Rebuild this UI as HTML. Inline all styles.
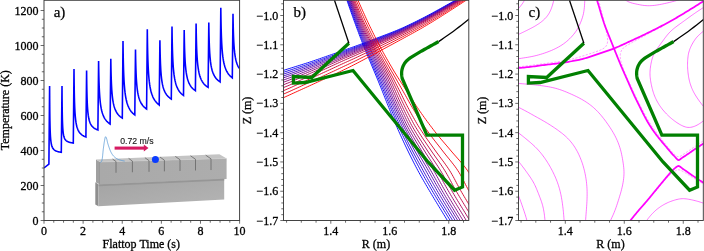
<!DOCTYPE html>
<html><head><meta charset="utf-8"><title>figure</title>
<style>html,body{margin:0;padding:0;background:#fff;overflow:hidden}svg{display:block;filter:blur(0.35px)}.tl{font-family:"Liberation Serif", serif;font-size:12px;fill:#000;stroke:#000;stroke-width:0.3px}.al{font-family:"Liberation Serif", serif;font-size:12px;fill:#000;stroke:#000;stroke-width:0.3px}.pl{font-family:"Liberation Serif", serif;font-size:15px;fill:#000;stroke:#000;stroke-width:0.25px}</style></head><body>
<svg width="704" height="251" viewBox="0 0 704 251">
<rect width="704" height="251" fill="#fff"/>
<g opacity="0.999">
<defs><linearGradient id="gu" x1="0" y1="0" x2="1" y2="0"><stop offset="0" stop-color="#a9a9a9"/><stop offset="1" stop-color="#adadad"/></linearGradient><linearGradient id="gl" x1="0" y1="0" x2="1" y2="1"><stop offset="0" stop-color="#a3a3a3"/><stop offset="1" stop-color="#b4b4b4"/></linearGradient></defs>
<clipPath id="ca"><rect x="44" y="0.3" width="195.6" height="220.2"/></clipPath>
<path d="M44 168 L48.9 164 L49.6 86 L49.68 100.32 L49.76 109.65 L49.84 116.22 L49.92 121.1 L50 124.86 L50.08 127.85 L50.16 130.28 L50.24 132.3 L50.32 134 L50.4 135.45 L50.48 136.71 L50.56 137.81 L50.64 138.78 L50.72 139.63 L50.8 140.4 L50.9 141.25 L51.26 143.58 L51.62 145.2 L51.98 146.38 L52.33 147.28 L52.69 147.99 L53.05 148.56 L53.41 149.04 L53.77 149.44 L54.13 149.77 L54.49 150.07 L54.84 150.32 L55.2 150.54 L55.56 150.74 L55.92 150.92 L56.28 151.08 L56.64 151.22 L57 151.35 L57.36 151.47 L57.71 151.58 L58.07 151.67 L58.43 151.77 L58.79 151.85 L59.15 151.93 L59.51 152 L59.87 152.07 L60.22 152.13 L60.58 152.19 L60.94 152.25 L61.3 152.3 L62 86 L62.08 98.32 L62.16 106.35 L62.24 112.01 L62.32 116.2 L62.4 119.44 L62.48 122.01 L62.56 124.1 L62.64 125.84 L62.72 127.3 L62.8 128.56 L62.88 129.64 L62.96 130.58 L63.04 131.41 L63.12 132.15 L63.2 132.81 L63.3 133.54 L63.64 135.49 L63.99 136.85 L64.33 137.85 L64.68 138.62 L65.02 139.23 L65.37 139.73 L65.71 140.14 L66.06 140.49 L66.4 140.78 L66.75 141.04 L67.09 141.26 L67.44 141.45 L67.78 141.63 L68.13 141.78 L68.47 141.92 L68.82 142.05 L69.16 142.16 L69.51 142.26 L69.85 142.36 L70.2 142.45 L70.54 142.53 L70.89 142.6 L71.23 142.67 L71.58 142.74 L71.92 142.8 L72.27 142.85 L72.61 142.9 L72.96 142.95 L73.3 143 L74 69 L74.08 77.96 L74.16 84.7 L74.24 89.97 L74.32 94.23 L74.4 97.75 L74.48 100.73 L74.56 103.27 L74.64 105.48 L74.72 107.42 L74.8 109.13 L74.88 110.66 L74.96 112.04 L75.04 113.29 L75.12 114.42 L75.2 115.46 L75.3 116.63 L75.67 120.09 L76.03 122.65 L76.4 124.62 L76.76 126.2 L77.13 127.5 L77.49 128.59 L77.86 129.51 L78.22 130.31 L78.59 131.01 L78.96 131.63 L79.32 132.18 L79.69 132.67 L80.05 133.12 L80.42 133.52 L80.78 133.89 L81.15 134.23 L81.51 134.54 L81.88 134.83 L82.24 135.1 L82.61 135.35 L82.98 135.58 L83.34 135.79 L83.71 136 L84.07 136.19 L84.44 136.37 L84.8 136.54 L85.17 136.7 L85.53 136.85 L85.9 137 L86.6 70.4 L86.68 78.28 L86.76 84.21 L86.84 88.85 L86.92 92.59 L87 95.69 L87.08 98.31 L87.16 100.55 L87.24 102.49 L87.32 104.19 L87.4 105.7 L87.48 107.05 L87.56 108.26 L87.64 109.35 L87.72 110.35 L87.8 111.26 L87.9 112.3 L88.24 115.2 L88.59 117.37 L88.93 119.06 L89.28 120.43 L89.62 121.56 L89.97 122.51 L90.31 123.32 L90.66 124.03 L91 124.64 L91.35 125.19 L91.69 125.68 L92.04 126.12 L92.38 126.51 L92.73 126.88 L93.07 127.21 L93.42 127.51 L93.76 127.79 L94.11 128.05 L94.45 128.29 L94.8 128.51 L95.14 128.72 L95.49 128.91 L95.83 129.1 L96.18 129.27 L96.52 129.43 L96.87 129.59 L97.21 129.73 L97.56 129.87 L97.9 130 L98.6 61 L98.68 66.66 L98.76 71.26 L98.84 75.09 L98.92 78.35 L99 81.16 L99.08 83.62 L99.16 85.79 L99.24 87.73 L99.32 89.48 L99.4 91.07 L99.48 92.51 L99.56 93.83 L99.64 95.05 L99.72 96.18 L99.8 97.23 L99.9 98.44 L100.25 102 L100.6 104.78 L100.96 107.03 L101.31 108.9 L101.66 110.49 L102.01 111.85 L102.36 113.05 L102.71 114.1 L103.07 115.04 L103.42 115.88 L103.77 116.65 L104.12 117.35 L104.47 117.98 L104.82 118.57 L105.18 119.12 L105.53 119.62 L105.88 120.09 L106.23 120.53 L106.58 120.94 L106.93 121.33 L107.29 121.69 L107.64 122.03 L107.99 122.36 L108.34 122.67 L108.69 122.96 L109.04 123.24 L109.4 123.5 L109.75 123.76 L110.1 124 L110.8 58.8 L110.88 64.13 L110.96 68.46 L111.04 72.06 L111.12 75.13 L111.2 77.77 L111.28 80.09 L111.36 82.14 L111.44 83.96 L111.52 85.61 L111.6 87.1 L111.68 88.46 L111.76 89.71 L111.84 90.85 L111.92 91.92 L112 92.9 L112.1 94.04 L112.45 97.39 L112.8 100.01 L113.16 102.13 L113.51 103.89 L113.86 105.38 L114.21 106.67 L114.56 107.79 L114.91 108.78 L115.27 109.67 L115.62 110.46 L115.97 111.18 L116.32 111.84 L116.67 112.44 L117.02 112.99 L117.38 113.5 L117.73 113.98 L118.08 114.42 L118.43 114.83 L118.78 115.22 L119.13 115.58 L119.49 115.93 L119.84 116.25 L120.19 116.56 L120.54 116.85 L120.89 117.12 L121.24 117.38 L121.6 117.63 L121.95 117.87 L122.3 118.1 L123 41 L123.08 47.63 L123.16 53.01 L123.24 57.5 L123.32 61.31 L123.4 64.6 L123.48 67.48 L123.56 70.03 L123.64 72.3 L123.72 74.35 L123.8 76.21 L123.88 77.9 L123.96 79.45 L124.04 80.87 L124.12 82.19 L124.2 83.42 L124.3 84.84 L124.66 89.11 L125.02 92.44 L125.39 95.11 L125.75 97.32 L126.11 99.19 L126.47 100.8 L126.83 102.21 L127.2 103.45 L127.56 104.55 L127.92 105.54 L128.28 106.43 L128.64 107.25 L129.01 107.99 L129.37 108.68 L129.73 109.31 L130.09 109.9 L130.46 110.45 L130.82 110.96 L131.18 111.44 L131.54 111.89 L131.9 112.31 L132.27 112.71 L132.63 113.09 L132.99 113.45 L133.35 113.79 L133.71 114.12 L134.08 114.42 L134.44 114.72 L134.8 115 L135.5 49.4 L135.58 54.78 L135.66 59.15 L135.74 62.79 L135.82 65.88 L135.9 68.55 L135.98 70.89 L136.06 72.96 L136.14 74.8 L136.22 76.46 L136.3 77.97 L136.38 79.34 L136.46 80.6 L136.54 81.76 L136.62 82.83 L136.7 83.82 L136.8 84.97 L137.14 88.24 L137.48 90.81 L137.81 92.91 L138.15 94.66 L138.49 96.14 L138.83 97.43 L139.17 98.56 L139.5 99.55 L139.84 100.44 L140.18 101.25 L140.52 101.97 L140.86 102.64 L141.19 103.24 L141.53 103.8 L141.87 104.32 L142.21 104.8 L142.54 105.25 L142.88 105.67 L143.22 106.07 L143.56 106.44 L143.9 106.78 L144.23 107.11 L144.57 107.43 L144.91 107.72 L145.25 108 L145.59 108.27 L145.92 108.52 L146.26 108.77 L146.6 109 L147.3 29.3 L147.38 36.07 L147.46 41.58 L147.54 46.16 L147.62 50.06 L147.7 53.42 L147.78 56.36 L147.86 58.97 L147.94 61.29 L148.02 63.38 L148.1 65.28 L148.18 67.01 L148.26 68.59 L148.34 70.05 L148.42 71.4 L148.5 72.65 L148.6 74.1 L148.97 78.51 L149.33 81.92 L149.7 84.67 L150.06 86.94 L150.43 88.85 L150.79 90.5 L151.16 91.94 L151.52 93.2 L151.89 94.33 L152.26 95.34 L152.62 96.26 L152.99 97.09 L153.35 97.85 L153.72 98.55 L154.08 99.2 L154.45 99.8 L154.81 100.36 L155.18 100.88 L155.54 101.37 L155.91 101.83 L156.28 102.26 L156.64 102.67 L157.01 103.06 L157.37 103.42 L157.74 103.77 L158.1 104.1 L158.47 104.41 L158.83 104.71 L159.2 105 L159.9 40.3 L159.98 45.58 L160.06 49.87 L160.14 53.44 L160.22 56.48 L160.3 59.1 L160.38 61.4 L160.46 63.42 L160.54 65.24 L160.62 66.87 L160.7 68.34 L160.78 69.69 L160.86 70.93 L160.94 72.06 L161.02 73.12 L161.1 74.09 L161.2 75.22 L161.55 78.51 L161.9 81.09 L162.24 83.18 L162.59 84.92 L162.94 86.39 L163.29 87.66 L163.64 88.77 L163.99 89.76 L164.33 90.63 L164.68 91.42 L165.03 92.13 L165.38 92.78 L165.73 93.38 L166.08 93.93 L166.42 94.44 L166.77 94.91 L167.12 95.35 L167.47 95.76 L167.82 96.14 L168.17 96.5 L168.51 96.84 L168.86 97.16 L169.21 97.47 L169.56 97.75 L169.91 98.03 L170.26 98.29 L170.6 98.54 L170.95 98.77 L171.3 99 L172 26.4 L172.08 32.61 L172.16 37.65 L172.24 41.85 L172.32 45.43 L172.4 48.51 L172.48 51.21 L172.56 53.59 L172.64 55.72 L172.72 57.64 L172.8 59.38 L172.88 60.96 L172.96 62.41 L173.04 63.75 L173.12 64.99 L173.2 66.14 L173.3 67.46 L173.65 71.37 L174 74.42 L174.36 76.89 L174.71 78.94 L175.06 80.68 L175.41 82.18 L175.76 83.48 L176.11 84.64 L176.47 85.67 L176.82 86.6 L177.17 87.44 L177.52 88.2 L177.87 88.9 L178.22 89.55 L178.58 90.14 L178.93 90.7 L179.28 91.21 L179.63 91.69 L179.98 92.14 L180.33 92.57 L180.69 92.97 L181.04 93.34 L181.39 93.7 L181.74 94.04 L182.09 94.36 L182.44 94.67 L182.8 94.96 L183.15 95.23 L183.5 95.5 L184.2 29.9 L184.28 35.38 L184.36 39.83 L184.44 43.54 L184.52 46.7 L184.6 49.42 L184.68 51.8 L184.76 53.9 L184.84 55.79 L184.92 57.48 L185 59.01 L185.08 60.41 L185.16 61.69 L185.24 62.87 L185.32 63.96 L185.4 64.98 L185.5 66.15 L185.84 69.51 L186.18 72.15 L186.52 74.29 L186.87 76.08 L187.21 77.6 L187.55 78.92 L187.89 80.07 L188.23 81.08 L188.57 81.99 L188.91 82.81 L189.26 83.55 L189.6 84.23 L189.94 84.85 L190.28 85.42 L190.62 85.94 L190.96 86.43 L191.3 86.89 L191.64 87.32 L191.99 87.72 L192.33 88.09 L192.67 88.45 L193.01 88.78 L193.35 89.1 L193.69 89.4 L194.03 89.69 L194.38 89.96 L194.72 90.22 L195.06 90.46 L195.4 90.7 L196.1 23.4 L196.18 29.12 L196.26 33.77 L196.34 37.64 L196.42 40.93 L196.5 43.77 L196.58 46.26 L196.66 48.46 L196.74 50.42 L196.82 52.19 L196.9 53.79 L196.98 55.25 L197.06 56.58 L197.14 57.82 L197.22 58.96 L197.3 60.01 L197.4 61.24 L197.77 64.99 L198.14 67.89 L198.51 70.22 L198.88 72.15 L199.24 73.77 L199.61 75.16 L199.98 76.38 L200.35 77.45 L200.72 78.4 L201.09 79.26 L201.46 80.03 L201.83 80.73 L202.2 81.37 L202.57 81.97 L202.93 82.51 L203.3 83.02 L203.67 83.49 L204.04 83.93 L204.41 84.34 L204.78 84.73 L205.15 85.09 L205.52 85.44 L205.89 85.76 L206.26 86.07 L206.62 86.36 L206.99 86.64 L207.36 86.91 L207.73 87.16 L208.1 87.4 L208.8 22.5 L208.88 27.85 L208.96 32.19 L209.04 35.81 L209.12 38.89 L209.2 41.55 L209.28 43.87 L209.36 45.93 L209.44 47.76 L209.52 49.41 L209.6 50.91 L209.68 52.27 L209.76 53.53 L209.84 54.68 L209.92 55.74 L210 56.73 L210.1 57.88 L210.44 61.18 L210.79 63.78 L211.13 65.88 L211.48 67.63 L211.82 69.12 L212.17 70.41 L212.51 71.53 L212.86 72.53 L213.2 73.41 L213.55 74.21 L213.89 74.93 L214.24 75.59 L214.58 76.2 L214.93 76.75 L215.27 77.27 L215.62 77.74 L215.96 78.19 L216.31 78.61 L216.65 79 L217 79.36 L217.34 79.71 L217.69 80.03 L218.03 80.34 L218.38 80.63 L218.72 80.91 L219.07 81.18 L219.41 81.43 L219.76 81.67 L220.1 81.9 L220.8 7.7 L220.88 14 L220.96 19.12 L221.04 23.38 L221.12 27 L221.2 30.13 L221.28 32.87 L221.36 35.29 L221.44 37.45 L221.52 39.39 L221.6 41.15 L221.68 42.76 L221.76 44.23 L221.84 45.59 L221.92 46.85 L222 48.01 L222.1 49.36 L222.45 53.32 L222.8 56.42 L223.16 58.92 L223.51 61 L223.86 62.76 L224.21 64.28 L224.56 65.61 L224.91 66.78 L225.27 67.83 L225.62 68.77 L225.97 69.62 L226.32 70.4 L226.67 71.11 L227.02 71.76 L227.38 72.37 L227.73 72.93 L228.08 73.45 L228.43 73.94 L228.78 74.4 L229.13 74.83 L229.49 75.23 L229.84 75.61 L230.19 75.97 L230.54 76.32 L230.89 76.64 L231.24 76.95 L231.6 77.25 L231.95 77.53 L232.3 77.8 L233 13.8 L233.08 19.16 L233.16 23.51 L233.24 27.14 L233.32 30.22 L233.4 32.88 L233.48 35.21 L233.56 37.27 L233.64 39.11 L233.72 40.76 L233.8 42.26 L233.88 43.63 L233.96 44.88 L234.04 46.04 L234.12 47.1 L234.2 48.09 L234.3 49.24 L234.66 52.64 L235.01 55.29 L235.37 57.43 L235.72 59.21 L236.08 60.71 L236.43 62.01 L236.79 63.14 L237.14 64.14 L237.5 65.03 L237.85 65.83 L238.21 66.55 L238.56 67.21 L238.92 67.82 L239.27 68.37" fill="none" stroke="#0000ff" stroke-width="1.6" stroke-linejoin="miter" stroke-miterlimit="20" clip-path="url(#ca)"/>
<polygon points="95.3,182.3 98.4,184.2 98.4,206.2 95.3,204.5" fill="#8e8e8e"/>
<polygon points="98.4,184.2 224.2,178.6 224.2,199.5 98.4,206.2" fill="url(#gl)"/>
<polygon points="96,159.6 100,162 100,184.6 96,182.4" fill="#a0a0a0"/>
<path d="M100 162 L100 184.6" stroke="#8c8c8c" stroke-width="0.6" fill="none"/>
<polygon points="96,159.6 219.4,154.3 226.6,158.4 100,162" fill="#c4c4c4"/>
<polygon points="100,162 226.6,158.4 226.6,178.9 100,184.6" fill="url(#gu)"/>
<path d="M98.6 185.3 L224.2 179.7" stroke="#969696" stroke-width="1.7" fill="none"/>
<path d="M100 162 L226.6 158.4" stroke="#cfcfcf" stroke-width="0.5" fill="none"/>
<path d="M112.56 159.06 L116 161.55 L116 172.75" stroke="#606060" stroke-width="0.75" fill="none"/>
<path d="M128.64 158.39 L132.4 161.08 L132.4 172.28" stroke="#606060" stroke-width="0.75" fill="none"/>
<path d="M144.91 157.7 L149 160.61 L149 171.81" stroke="#606060" stroke-width="0.75" fill="none"/>
<path d="M160.01 157.07 L164.4 160.17 L164.4 171.37" stroke="#606060" stroke-width="0.75" fill="none"/>
<path d="M175.3 156.42 L180 159.73 L180 170.93" stroke="#606060" stroke-width="0.75" fill="none"/>
<path d="M190.5 155.79 L195.5 159.28 L195.5 170.48" stroke="#606060" stroke-width="0.75" fill="none"/>
<path d="M205.69 155.15 L211 158.84 L211 170.04" stroke="#606060" stroke-width="0.75" fill="none"/>
<path d="M100.4 162.6 L100.98 162.09 L101.46 161.51 L101.79 160.83 L102 160.08 L102.15 159.31 L102.28 158.55 L102.39 157.79 L102.49 157.03 L102.57 156.28 L102.65 155.53 L102.72 154.78 L102.79 154.03 L102.86 153.27 L102.94 152.52 L103.01 151.76 L103.09 150.99 L103.18 150.22 L103.26 149.44 L103.36 148.65 L103.46 147.87 L103.56 147.08 L103.66 146.3 L103.77 145.53 L103.88 144.78 L103.98 144.04 L104.09 143.33 L104.19 142.64 L104.3 141.98 L104.4 141.32 L104.52 140.64 L104.66 139.9 L104.82 139.07 L105.02 138.12 L105.26 137.16 L105.59 136.7 L106 137.15 L106.39 138.03 L106.69 138.85 L106.9 139.6 L107.06 140.3 L107.19 140.98 L107.34 141.66 L107.51 142.37 L107.7 143.1 L107.92 143.84 L108.15 144.58 L108.38 145.33 L108.63 146.08 L108.87 146.81 L109.11 147.54 L109.36 148.26 L109.62 148.97 L109.89 149.68 L110.18 150.38 L110.47 151.09 L110.79 151.78 L111.13 152.47 L111.49 153.14 L111.88 153.8 L112.29 154.45 L112.74 155.07 L113.22 155.67 L113.73 156.24 L114.27 156.78 L114.84 157.3 L115.43 157.78 L116.06 158.22 L116.71 158.63 L117.38 159 L118.07 159.33 L118.78 159.62 L119.5 159.87 L120.23 160.09 L120.97 160.29 L121.71 160.47 L122.46 160.64 L123.2 160.8 L123.95 160.95 L124.7 161.1" fill="none" stroke="#5b9bd5" stroke-width="0.8"/>
<path d="M114.6 148.1 L144.6 148.1" stroke="#d61b62" stroke-width="3.1" fill="none"/>
<polygon points="143.8,144.6 148.5,148.1 143.8,151.6" fill="#d61b62"/>
<text x="136.9" y="144.1" font-family='"Liberation Sans", sans-serif' font-size="8.7" text-anchor="middle" fill="#222" stroke="#222" stroke-width="0.15">0.72 m/s</text>
<circle cx="155.4" cy="159.6" r="3.5" fill="#0a3cff"/>
<rect x="44" y="0.3" width="195.6" height="220.2" fill="none" stroke="#3a3a3a" stroke-width="0.95"/>
<path d="M44 220.5 h-3.4 M44 211.75 h-2.2 M44 203 h-2.2 M44 194.25 h-2.2 M44 185.5 h-3.4 M44 176.75 h-2.2 M44 168 h-2.2 M44 159.25 h-2.2 M44 150.5 h-3.4 M44 141.75 h-2.2 M44 133 h-2.2 M44 124.25 h-2.2 M44 115.5 h-3.4 M44 106.75 h-2.2 M44 98 h-2.2 M44 89.25 h-2.2 M44 80.5 h-3.4 M44 71.75 h-2.2 M44 63 h-2.2 M44 54.25 h-2.2 M44 45.5 h-3.4 M44 36.75 h-2.2 M44 28 h-2.2 M44 19.25 h-2.2 M44 10.5 h-3.4 M44 220.5 v3.2 M53.78 220.5 v2.2 M63.56 220.5 v2.2 M73.34 220.5 v2.2 M83.12 220.5 v3.2 M92.9 220.5 v2.2 M102.68 220.5 v2.2 M112.46 220.5 v2.2 M122.24 220.5 v3.2 M132.02 220.5 v2.2 M141.8 220.5 v2.2 M151.58 220.5 v2.2 M161.36 220.5 v3.2 M171.14 220.5 v2.2 M180.92 220.5 v2.2 M190.7 220.5 v2.2 M200.48 220.5 v3.2 M210.26 220.5 v2.2 M220.04 220.5 v2.2 M229.82 220.5 v2.2 M239.6 220.5 v3.2" stroke="#3a3a3a" stroke-width="0.75" fill="none"/>
<text x="38.6" y="224.9" text-anchor="end" class="tl">0</text>
<text x="38.6" y="189.9" text-anchor="end" class="tl">200</text>
<text x="38.6" y="154.9" text-anchor="end" class="tl">400</text>
<text x="38.6" y="119.9" text-anchor="end" class="tl">600</text>
<text x="38.6" y="84.9" text-anchor="end" class="tl">800</text>
<text x="38.6" y="49.9" text-anchor="end" class="tl">1000</text>
<text x="38.6" y="14.9" text-anchor="end" class="tl">1200</text>
<text x="44" y="234.7" text-anchor="middle" class="tl">0</text>
<text x="83.12" y="234.7" text-anchor="middle" class="tl">2</text>
<text x="122.24" y="234.7" text-anchor="middle" class="tl">4</text>
<text x="161.36" y="234.7" text-anchor="middle" class="tl">6</text>
<text x="200.48" y="234.7" text-anchor="middle" class="tl">8</text>
<text x="239.6" y="234.7" text-anchor="middle" class="tl">10</text>
<text x="141.3" y="247.9" text-anchor="middle" class="al">Flattop Time (s)</text>
<text transform="translate(9.2 110.2) rotate(-90)" text-anchor="middle" class="al">Temperature (K)</text>
<text x="53.7" y="17.2" class="pl">a)</text>
<clipPath id="cb"><rect x="283.5" y="0.3" width="185.3" height="220.2"/></clipPath>
<g fill="none" stroke-width="0.92" clip-path="url(#cb)">
<path d="M345.21 -5 L345.85 -3.03 L346.51 -1.05 L347.17 0.92 L347.85 2.9 L348.53 4.87 L349.21 6.85 L349.89 8.82 L350.58 10.8 L351.28 12.77 L351.97 14.75 L352.68 16.72 L353.38 18.7 L354.09 20.67 L354.81 22.65 L355.53 24.62 L356.25 26.6 L356.98 28.57 L357.72 30.55 L358.46 32.52 L359.2 34.5 L359.95 36.47 L360.7 38.45 L361.46 40.42 L362.23 42.39 L363.01 44.37 L363.8 46.34 L364.59 48.32 L365.4 50.29 L366.21 52.27 L367.02 54.24 L367.84 56.22 L368.67 58.19 L369.5 60.17 L370.33 62.14 L371.16 64.12 L371.99 66.09 L372.82 68.07 L373.65 70.04 L374.48 72.02 L375.31 73.99 L376.13 75.97 L376.95 77.94 L377.77 79.92 L378.57 81.89 L379.37 83.87 L380.17 85.84 L380.96 87.82 L381.75 89.79 L382.54 91.76 L383.32 93.74 L384.1 95.71 L384.89 97.69 L385.67 99.66 L386.45 101.64 L387.23 103.61 L388.02 105.59 L388.81 107.56 L389.6 109.54 L390.4 111.51 L391.2 113.49 L392.01 115.46 L392.82 117.44 L393.64 119.41 L394.47 121.39 L395.31 123.36 L396.16 125.34 L397.02 127.31 L397.88 129.29 L398.76 131.26 L399.65 133.24 L400.54 135.21 L401.44 137.18 L402.35 139.16 L403.27 141.13 L404.19 143.11 L405.12 145.08 L406.06 147.06 L407.01 149.03 L407.97 151.01 L408.93 152.98 L409.91 154.96 L410.89 156.93 L411.88 158.91 L412.88 160.88 L413.88 162.86 L414.9 164.83 L415.92 166.81 L416.96 168.78 L418 170.76 L419.07 172.73 L420.16 174.71 L421.26 176.68 L422.39 178.66 L423.52 180.63 L424.67 182.61 L425.82 184.58 L426.98 186.55 L428.14 188.53 L429.3 190.5 L430.46 192.48 L431.63 194.45 L432.81 196.43 L434 198.4 L435.19 200.38 L436.39 202.35 L437.59 204.33 L438.79 206.3 L440 208.28 L441.2 210.25 L442.41 212.23 L443.62 214.2 L444.83 216.18 L446.03 218.15 L447.23 220.13 L448.43 222.1 L449.64 224.08 L450.84 226.05 L452.04 228.03 L453.25 230" stroke="rgb(0,0,255)"/>
<path d="M275 73.21 L277.02 72.54 L279.04 71.87 L281.06 71.2 L283.08 70.54 L285.1 69.88 L287.12 69.23 L289.14 68.59 L291.16 67.96 L293.18 67.33 L295.2 66.7 L297.22 66.07 L299.24 65.44 L301.26 64.81 L303.28 64.17 L305.3 63.53 L307.32 62.88 L309.34 62.22 L311.36 61.55 L313.38 60.87 L315.4 60.18 L317.42 59.49 L319.44 58.79 L321.46 58.09 L323.48 57.39 L325.51 56.68 L327.53 55.97 L329.55 55.26 L331.57 54.56 L333.59 53.85 L335.61 53.15 L337.63 52.44 L339.65 51.74 L341.67 51.04 L343.69 50.33 L345.71 49.62 L347.73 48.91 L349.75 48.2 L351.77 47.48 L353.79 46.75 L355.81 46.03 L357.83 45.29 L359.85 44.55 L361.87 43.8 L363.89 43.04 L365.91 42.28 L367.93 41.51 L369.95 40.74 L371.97 39.96 L373.99 39.19 L376.01 38.41 L378.03 37.64 L380.05 36.88 L382.07 36.11 L384.09 35.35 L386.11 34.58 L388.13 33.8 L390.15 33.02 L392.17 32.23 L394.19 31.42 L396.21 30.6 L398.23 29.75 L400.25 28.89 L402.27 28.01 L404.29 27.1 L406.31 26.17 L408.33 25.23 L410.35 24.26 L412.37 23.29 L414.39 22.3 L416.41 21.3 L418.43 20.29 L420.45 19.27 L422.47 18.24 L424.49 17.19 L426.52 16.13 L428.54 15.06 L430.56 13.98 L432.58 12.89 L434.6 11.78 L436.62 10.67 L438.64 9.56 L440.66 8.44 L442.68 7.31 L444.7 6.19 L446.72 5.06 L448.74 3.93 L450.76 2.8 L452.78 1.68 L454.8 0.56 L456.82 -0.57 L458.84 -1.7 L460.86 -2.84 L462.88 -3.98 L464.9 -5.12 L466.92 -6.27 L468.94 -7.4 L470.96 -8.54 L472.98 -9.67 L475 -10.8" stroke="rgb(0,0,255)"/>
<path d="M345.83 -5 L346.49 -3.03 L347.15 -1.05 L347.83 0.92 L348.52 2.9 L349.21 4.87 L349.9 6.85 L350.6 8.82 L351.3 10.8 L352 12.77 L352.71 14.75 L353.43 16.72 L354.15 18.7 L354.87 20.67 L355.6 22.65 L356.33 24.62 L357.07 26.6 L357.82 28.57 L358.57 30.55 L359.32 32.52 L360.08 34.5 L360.85 36.47 L361.62 38.45 L362.39 40.42 L363.18 42.39 L363.98 44.37 L364.78 46.34 L365.6 48.32 L366.42 50.29 L367.25 52.27 L368.08 54.24 L368.92 56.22 L369.77 58.19 L370.62 60.17 L371.47 62.14 L372.32 64.12 L373.17 66.09 L374.03 68.07 L374.88 70.04 L375.73 72.02 L376.58 73.99 L377.43 75.97 L378.27 77.94 L379.1 79.92 L379.93 81.89 L380.75 83.87 L381.57 85.84 L382.39 87.82 L383.2 89.79 L384 91.76 L384.81 93.74 L385.61 95.71 L386.42 97.69 L387.22 99.66 L388.02 101.64 L388.83 103.61 L389.64 105.59 L390.45 107.56 L391.27 109.54 L392.1 111.51 L392.93 113.49 L393.76 115.46 L394.61 117.44 L395.46 119.41 L396.31 121.39 L397.18 123.36 L398.06 125.34 L398.95 127.31 L399.86 129.29 L400.77 131.26 L401.69 133.24 L402.63 135.21 L403.57 137.18 L404.52 139.16 L405.48 141.13 L406.45 143.11 L407.42 145.08 L408.4 147.06 L409.39 149.03 L410.39 151.01 L411.39 152.98 L412.41 154.96 L413.43 156.93 L414.46 158.91 L415.5 160.88 L416.55 162.86 L417.6 164.83 L418.66 166.81 L419.72 168.78 L420.78 170.76 L421.86 172.73 L422.95 174.71 L424.06 176.68 L425.18 178.66 L426.31 180.63 L427.44 182.61 L428.58 184.58 L429.73 186.55 L430.88 188.53 L432.04 190.5 L433.2 192.48 L434.37 194.45 L435.55 196.43 L436.73 198.4 L437.93 200.38 L439.12 202.35 L440.32 204.33 L441.53 206.3 L442.74 208.28 L443.94 210.25 L445.15 212.23 L446.36 214.2 L447.57 216.18 L448.78 218.15 L449.98 220.13 L451.18 222.1 L452.38 224.08 L453.58 226.05 L454.79 228.03 L455.99 230" stroke="rgb(21,0,234)"/>
<path d="M275 75.18 L277.02 74.48 L279.04 73.79 L281.06 73.11 L283.08 72.42 L285.1 71.75 L287.12 71.08 L289.14 70.42 L291.16 69.76 L293.18 69.1 L295.2 68.44 L297.22 67.78 L299.24 67.12 L301.26 66.46 L303.28 65.79 L305.3 65.12 L307.32 64.44 L309.34 63.76 L311.36 63.06 L313.38 62.36 L315.4 61.65 L317.42 60.93 L319.44 60.21 L321.46 59.48 L323.48 58.75 L325.51 58.02 L327.53 57.29 L329.55 56.56 L331.57 55.83 L333.59 55.1 L335.61 54.38 L337.63 53.65 L339.65 52.92 L341.67 52.2 L343.69 51.47 L345.71 50.74 L347.73 50.01 L349.75 49.28 L351.77 48.54 L353.79 47.8 L355.81 47.06 L357.83 46.3 L359.85 45.54 L361.87 44.77 L363.89 43.99 L365.91 43.21 L367.93 42.43 L369.95 41.64 L371.97 40.85 L373.99 40.05 L376.01 39.26 L378.03 38.47 L380.05 37.69 L382.07 36.9 L384.09 36.12 L386.11 35.33 L388.13 34.54 L390.15 33.74 L392.17 32.93 L394.19 32.1 L396.21 31.26 L398.23 30.41 L400.25 29.53 L402.27 28.63 L404.29 27.71 L406.31 26.78 L408.33 25.82 L410.35 24.85 L412.37 23.87 L414.39 22.87 L416.41 21.87 L418.43 20.85 L420.45 19.82 L422.47 18.79 L424.49 17.73 L426.52 16.67 L428.54 15.59 L430.56 14.49 L432.58 13.39 L434.6 12.28 L436.62 11.17 L438.64 10.04 L440.66 8.91 L442.68 7.78 L444.7 6.64 L446.72 5.51 L448.74 4.37 L450.76 3.23 L452.78 2.1 L454.8 0.96 L456.82 -0.17 L458.84 -1.32 L460.86 -2.46 L462.88 -3.62 L464.9 -4.77 L466.92 -5.92 L468.94 -7.07 L470.96 -8.21 L472.98 -9.36 L475 -10.5" stroke="rgb(23,0,232)"/>
<path d="M346.44 -5 L347.11 -3.03 L347.78 -1.05 L348.47 0.92 L349.17 2.9 L349.87 4.87 L350.58 6.85 L351.29 8.82 L352 10.8 L352.72 12.77 L353.44 14.75 L354.16 16.72 L354.89 18.7 L355.63 20.67 L356.38 22.65 L357.13 24.62 L357.89 26.6 L358.65 28.57 L359.42 30.55 L360.19 32.52 L360.97 34.5 L361.76 36.47 L362.55 38.45 L363.35 40.42 L364.16 42.39 L364.98 44.37 L365.8 46.34 L366.64 48.32 L367.49 50.29 L368.34 52.27 L369.2 54.24 L370.07 56.22 L370.94 58.19 L371.82 60.17 L372.7 62.14 L373.57 64.12 L374.44 66.09 L375.32 68.07 L376.19 70.04 L377.07 72.02 L377.94 73.99 L378.81 75.97 L379.65 77.94 L380.5 79.92 L381.34 81.89 L382.17 83.87 L383 85.84 L383.82 87.82 L384.64 89.79 L385.46 91.76 L386.27 93.74 L387.08 95.71 L387.89 97.69 L388.7 99.66 L389.51 101.64 L390.33 103.61 L391.15 105.59 L391.98 107.56 L392.81 109.54 L393.65 111.51 L394.5 113.49 L395.35 115.46 L396.21 117.44 L397.07 119.41 L397.95 121.39 L398.83 123.36 L399.72 125.34 L400.65 127.31 L401.58 129.29 L402.53 131.26 L403.48 133.24 L404.45 135.21 L405.43 137.18 L406.42 139.16 L407.41 141.13 L408.42 143.11 L409.43 145.08 L410.45 147.06 L411.47 149.03 L412.5 151.01 L413.54 152.98 L414.6 154.96 L415.66 156.93 L416.73 158.91 L417.8 160.88 L418.88 162.86 L419.96 164.83 L421.05 166.81 L422.13 168.78 L423.21 170.76 L424.3 172.73 L425.4 174.71 L426.51 176.68 L427.62 178.66 L428.74 180.63 L429.87 182.61 L431 184.58 L432.14 186.55 L433.29 188.53 L434.44 190.5 L435.6 192.48 L436.77 194.45 L437.95 196.43 L439.13 198.4 L440.32 200.38 L441.52 202.35 L442.72 204.33 L443.93 206.3 L445.13 208.28 L446.34 210.25 L447.55 212.23 L448.76 214.2 L449.97 216.18 L451.18 218.15 L452.38 220.13 L453.58 222.1 L454.78 224.08 L455.98 226.05 L457.19 228.03 L458.39 230" stroke="rgb(42,0,212)"/>
<path d="M275 77.11 L277.02 76.4 L279.04 75.69 L281.06 74.98 L283.08 74.28 L285.1 73.59 L287.12 72.91 L289.14 72.23 L291.16 71.54 L293.18 70.84 L295.2 70.14 L297.22 69.45 L299.24 68.75 L301.26 68.06 L303.28 67.36 L305.3 66.65 L307.32 65.94 L309.34 65.22 L311.36 64.5 L313.38 63.76 L315.4 63.02 L317.42 62.28 L319.44 61.53 L321.46 60.77 L323.48 60.01 L325.51 59.26 L327.53 58.5 L329.55 57.74 L331.57 56.99 L333.59 56.23 L335.61 55.48 L337.63 54.73 L339.65 53.97 L341.67 53.22 L343.69 52.46 L345.71 51.71 L347.73 50.97 L349.75 50.23 L351.77 49.47 L353.79 48.72 L355.81 47.95 L357.83 47.18 L359.85 46.41 L361.87 45.62 L363.89 44.83 L365.91 44.03 L367.93 43.23 L369.95 42.42 L371.97 41.62 L373.99 40.81 L376.01 40 L378.03 39.19 L380.05 38.39 L382.07 37.59 L384.09 36.79 L386.11 35.99 L388.13 35.18 L390.15 34.37 L392.17 33.54 L394.19 32.7 L396.21 31.85 L398.23 30.98 L400.25 30.09 L402.27 29.18 L404.29 28.25 L406.31 27.31 L408.33 26.35 L410.35 25.37 L412.37 24.38 L414.39 23.38 L416.41 22.36 L418.43 21.34 L420.45 20.31 L422.47 19.26 L424.49 18.2 L426.52 17.13 L428.54 16.04 L430.56 14.94 L432.58 13.84 L434.6 12.72 L436.62 11.59 L438.64 10.46 L440.66 9.33 L442.68 8.19 L444.7 7.04 L446.72 5.9 L448.74 4.75 L450.76 3.61 L452.78 2.46 L454.8 1.32 L456.82 0.17 L458.84 -0.98 L460.86 -2.13 L462.88 -3.29 L464.9 -4.45 L466.92 -5.62 L468.94 -6.78 L470.96 -7.93 L472.98 -9.09 L475 -10.24" stroke="rgb(46,0,209)"/>
<path d="M347.09 -5 L347.77 -3.03 L348.46 -1.05 L349.16 0.92 L349.87 2.9 L350.58 4.87 L351.3 6.85 L352.02 8.82 L352.75 10.8 L353.48 12.77 L354.21 14.75 L354.95 16.72 L355.69 18.7 L356.44 20.67 L357.21 22.65 L357.98 24.62 L358.76 26.6 L359.54 28.57 L360.33 30.55 L361.12 32.52 L361.92 34.5 L362.73 36.47 L363.54 38.45 L364.36 40.42 L365.2 42.39 L366.04 44.37 L366.89 46.34 L367.75 48.32 L368.62 50.29 L369.5 52.27 L370.39 54.24 L371.29 56.22 L372.18 58.19 L373.09 60.17 L374 62.14 L374.89 64.12 L375.79 66.09 L376.68 68.07 L377.58 70.04 L378.48 72.02 L379.39 73.99 L380.27 75.97 L381.13 77.94 L381.98 79.92 L382.83 81.89 L383.68 83.87 L384.52 85.84 L385.36 87.82 L386.19 89.79 L387.01 91.76 L387.83 93.74 L388.65 95.71 L389.47 97.69 L390.28 99.66 L391.11 101.64 L391.94 103.61 L392.78 105.59 L393.62 107.56 L394.47 109.54 L395.33 111.51 L396.19 113.49 L397.06 115.46 L397.93 117.44 L398.82 119.41 L399.71 121.39 L400.61 123.36 L401.52 125.34 L402.48 127.31 L403.45 129.29 L404.43 131.26 L405.42 133.24 L406.42 135.21 L407.44 137.18 L408.47 139.16 L409.5 141.13 L410.55 143.11 L411.6 145.08 L412.66 147.06 L413.72 149.03 L414.79 151.01 L415.87 152.98 L416.96 154.96 L418.07 156.93 L419.17 158.91 L420.29 160.88 L421.41 162.86 L422.52 164.83 L423.64 166.81 L424.74 168.78 L425.85 170.76 L426.95 172.73 L428.05 174.71 L429.15 176.68 L430.26 178.66 L431.38 180.63 L432.5 182.61 L433.62 184.58 L434.75 186.55 L435.89 188.53 L437.04 190.5 L438.19 192.48 L439.36 194.45 L440.54 196.43 L441.72 198.4 L442.91 200.38 L444.11 202.35 L445.31 204.33 L446.52 206.3 L447.73 208.28 L448.94 210.25 L450.15 212.23 L451.36 214.2 L452.57 216.18 L453.77 218.15 L454.98 220.13 L456.18 222.1 L457.38 224.08 L458.58 226.05 L459.78 228.03 L460.99 230" stroke="rgb(64,0,191)"/>
<path d="M275 79.07 L277.02 78.34 L279.04 77.61 L281.06 76.89 L283.08 76.17 L285.1 75.46 L287.12 74.75 L289.14 74.06 L291.16 73.34 L293.18 72.6 L295.2 71.87 L297.22 71.15 L299.24 70.42 L301.26 69.69 L303.28 68.96 L305.3 68.22 L307.32 67.48 L309.34 66.73 L311.36 65.97 L313.38 65.21 L315.4 64.44 L317.42 63.67 L319.44 62.89 L321.46 62.11 L323.48 61.33 L325.51 60.54 L327.53 59.76 L329.55 58.98 L331.57 58.2 L333.59 57.42 L335.61 56.64 L337.63 55.86 L339.65 55.08 L341.67 54.3 L343.69 53.52 L345.71 52.75 L347.73 51.99 L349.75 51.23 L351.77 50.46 L353.79 49.69 L355.81 48.91 L357.83 48.12 L359.85 47.33 L361.87 46.53 L363.89 45.72 L365.91 44.9 L367.93 44.08 L369.95 43.26 L371.97 42.43 L373.99 41.61 L376.01 40.78 L378.03 39.96 L380.05 39.14 L382.07 38.33 L384.09 37.51 L386.11 36.69 L388.13 35.86 L390.15 35.03 L392.17 34.19 L394.19 33.34 L396.21 32.47 L398.23 31.58 L400.25 30.68 L402.27 29.76 L404.29 28.82 L406.31 27.87 L408.33 26.9 L410.35 25.92 L412.37 24.92 L414.39 23.91 L416.41 22.89 L418.43 21.86 L420.45 20.82 L422.47 19.77 L424.49 18.7 L426.52 17.62 L428.54 16.53 L430.56 15.42 L432.58 14.31 L434.6 13.18 L436.62 12.05 L438.64 10.91 L440.66 9.77 L442.68 8.62 L444.7 7.47 L446.72 6.31 L448.74 5.16 L450.76 4 L452.78 2.85 L454.8 1.7 L456.82 0.54 L458.84 -0.62 L460.86 -1.78 L462.88 -2.95 L464.9 -4.12 L466.92 -5.29 L468.94 -6.46 L470.96 -7.63 L472.98 -8.8 L475 -9.96" stroke="rgb(70,0,185)"/>
<path d="M347.74 -5 L348.43 -3.03 L349.13 -1.05 L349.85 0.92 L350.57 2.9 L351.3 4.87 L352.03 6.85 L352.76 8.82 L353.5 10.8 L354.24 12.77 L354.99 14.75 L355.74 16.72 L356.49 18.7 L357.26 20.67 L358.04 22.65 L358.83 24.62 L359.63 26.6 L360.43 28.57 L361.24 30.55 L362.06 32.52 L362.88 34.5 L363.71 36.47 L364.55 38.45 L365.39 40.42 L366.25 42.39 L367.12 44.37 L368 46.34 L368.88 48.32 L369.78 50.29 L370.69 52.27 L371.6 54.24 L372.53 56.22 L373.45 58.19 L374.39 60.17 L375.33 62.14 L376.24 64.12 L377.16 66.09 L378.08 68.07 L379.01 70.04 L379.93 72.02 L380.86 73.99 L381.76 75.97 L382.63 77.94 L383.49 79.92 L384.35 81.89 L385.21 83.87 L386.06 85.84 L386.9 87.82 L387.74 89.79 L388.58 91.76 L389.4 93.74 L390.23 95.71 L391.05 97.69 L391.86 99.66 L392.7 101.64 L393.54 103.61 L394.39 105.59 L395.25 107.56 L396.12 109.54 L396.99 111.51 L397.87 113.49 L398.75 115.46 L399.64 117.44 L400.54 119.41 L401.44 121.39 L402.35 123.36 L403.29 125.34 L404.28 127.31 L405.28 129.29 L406.3 131.26 L407.32 133.24 L408.36 135.21 L409.41 137.18 L410.48 139.16 L411.56 141.13 L412.64 143.11 L413.74 145.08 L414.83 147.06 L415.93 149.03 L417.04 151.01 L418.15 152.98 L419.29 154.96 L420.43 156.93 L421.58 158.91 L422.73 160.88 L423.88 162.86 L425.03 164.83 L426.17 166.81 L427.31 168.78 L428.43 170.76 L429.54 172.73 L430.65 174.71 L431.75 176.68 L432.86 178.66 L433.96 180.63 L435.07 182.61 L436.19 184.58 L437.31 186.55 L438.44 188.53 L439.58 190.5 L440.74 192.48 L441.9 194.45 L443.08 196.43 L444.26 198.4 L445.45 200.38 L446.65 202.35 L447.85 204.33 L449.06 206.3 L450.27 208.28 L451.48 210.25 L452.69 212.23 L453.9 214.2 L455.11 216.18 L456.32 218.15 L457.52 220.13 L458.72 222.1 L459.93 224.08 L461.13 226.05 L462.33 228.03 L463.54 230" stroke="rgb(85,0,170)"/>
<path d="M275 81.01 L277.02 80.26 L279.04 79.51 L281.06 78.77 L283.08 78.03 L285.1 77.3 L287.12 76.58 L289.14 75.86 L291.16 75.11 L293.18 74.35 L295.2 73.59 L297.22 72.83 L299.24 72.07 L301.26 71.31 L303.28 70.55 L305.3 69.79 L307.32 69.02 L309.34 68.24 L311.36 67.46 L313.38 66.67 L315.4 65.88 L317.42 65.08 L319.44 64.27 L321.46 63.47 L323.48 62.66 L325.51 61.86 L327.53 61.05 L329.55 60.24 L331.57 59.44 L333.59 58.64 L335.61 57.84 L337.63 57.03 L339.65 56.23 L341.67 55.43 L343.69 54.62 L345.71 53.83 L347.73 53.06 L349.75 52.28 L351.77 51.5 L353.79 50.71 L355.81 49.91 L357.83 49.1 L359.85 48.29 L361.87 47.47 L363.89 46.64 L365.91 45.81 L367.93 44.97 L369.95 44.13 L371.97 43.29 L373.99 42.45 L376.01 41.6 L378.03 40.76 L380.05 39.93 L382.07 39.09 L384.09 38.26 L386.11 37.42 L388.13 36.58 L390.15 35.73 L392.17 34.87 L394.19 34 L396.21 33.12 L398.23 32.22 L400.25 31.3 L402.27 30.37 L404.29 29.42 L406.31 28.46 L408.33 27.48 L410.35 26.49 L412.37 25.48 L414.39 24.47 L416.41 23.44 L418.43 22.4 L420.45 21.36 L422.47 20.3 L424.49 19.23 L426.52 18.14 L428.54 17.04 L430.56 15.92 L432.58 14.8 L434.6 13.67 L436.62 12.53 L438.64 11.38 L440.66 10.23 L442.68 9.07 L444.7 7.91 L446.72 6.75 L448.74 5.58 L450.76 4.42 L452.78 3.26 L454.8 2.09 L456.82 0.93 L458.84 -0.24 L460.86 -1.42 L462.88 -2.6 L464.9 -3.78 L466.92 -4.96 L468.94 -6.14 L470.96 -7.32 L472.98 -8.49 L475 -9.67" stroke="rgb(93,0,162)"/>
<path d="M348.38 -5 L349.09 -3.03 L349.8 -1.05 L350.53 0.92 L351.27 2.9 L352 4.87 L352.75 6.85 L353.49 8.82 L354.24 10.8 L355 12.77 L355.76 14.75 L356.52 16.72 L357.29 18.7 L358.07 20.67 L358.87 22.65 L359.68 24.62 L360.5 26.6 L361.33 28.57 L362.16 30.55 L363 32.52 L363.84 34.5 L364.7 36.47 L365.56 38.45 L366.43 40.42 L367.31 42.39 L368.2 44.37 L369.1 46.34 L370.02 48.32 L370.95 50.29 L371.88 52.27 L372.83 54.24 L373.78 56.22 L374.74 58.19 L375.7 60.17 L376.67 62.14 L377.61 64.12 L378.55 66.09 L379.5 68.07 L380.44 70.04 L381.4 72.02 L382.36 73.99 L383.28 75.97 L384.15 77.94 L385.02 79.92 L385.88 81.89 L386.74 83.87 L387.6 85.84 L388.45 87.82 L389.29 89.79 L390.13 91.76 L390.96 93.74 L391.78 95.71 L392.6 97.69 L393.42 99.66 L394.27 101.64 L395.12 103.61 L395.97 105.59 L396.84 107.56 L397.72 109.54 L398.61 111.51 L399.5 113.49 L400.39 115.46 L401.29 117.44 L402.2 119.41 L403.11 121.39 L404.04 123.36 L404.98 125.34 L406.01 127.31 L407.04 129.29 L408.09 131.26 L409.15 133.24 L410.22 135.21 L411.31 137.18 L412.41 139.16 L413.53 141.13 L414.65 143.11 L415.79 145.08 L416.92 147.06 L418.06 149.03 L419.19 151.01 L420.35 152.98 L421.52 154.96 L422.7 156.93 L423.89 158.91 L425.08 160.88 L426.26 162.86 L427.44 164.83 L428.61 166.81 L429.77 168.78 L430.91 170.76 L432.03 172.73 L433.15 174.71 L434.25 176.68 L435.35 178.66 L436.45 180.63 L437.55 182.61 L438.65 184.58 L439.77 186.55 L440.89 188.53 L442.03 190.5 L443.19 192.48 L444.35 194.45 L445.52 196.43 L446.71 198.4 L447.9 200.38 L449.1 202.35 L450.3 204.33 L451.51 206.3 L452.72 208.28 L453.93 210.25 L455.14 212.23 L456.35 214.2 L457.56 216.18 L458.77 218.15 L459.97 220.13 L461.17 222.1 L462.38 224.08 L463.58 226.05 L464.78 228.03 L465.99 230" stroke="rgb(106,0,149)"/>
<path d="M275 83.28 L277.02 82.51 L279.04 81.74 L281.06 80.98 L283.08 80.22 L285.1 79.47 L287.12 78.72 L289.14 77.98 L291.16 77.2 L293.18 76.39 L295.2 75.59 L297.22 74.79 L299.24 73.99 L301.26 73.19 L303.28 72.39 L305.3 71.59 L307.32 70.78 L309.34 69.97 L311.36 69.15 L313.38 68.32 L315.4 67.5 L317.42 66.66 L319.44 65.83 L321.46 64.99 L323.48 64.15 L325.51 63.31 L327.53 62.47 L329.55 61.64 L331.57 60.8 L333.59 59.97 L335.61 59.14 L337.63 58.3 L339.65 57.47 L341.67 56.64 L343.69 55.8 L345.71 54.98 L347.73 54.19 L349.75 53.4 L351.77 52.6 L353.79 51.79 L355.81 50.97 L357.83 50.15 L359.85 49.32 L361.87 48.48 L363.89 47.63 L365.91 46.78 L367.93 45.92 L369.95 45.06 L371.97 44.2 L373.99 43.34 L376.01 42.48 L378.03 41.62 L380.05 40.76 L382.07 39.91 L384.09 39.06 L386.11 38.2 L388.13 37.34 L390.15 36.47 L392.17 35.59 L394.19 34.71 L396.21 33.81 L398.23 32.89 L400.25 31.97 L402.27 31.02 L404.29 30.06 L406.31 29.09 L408.33 28.1 L410.35 27.1 L412.37 26.09 L414.39 25.06 L416.41 24.03 L418.43 22.98 L420.45 21.93 L422.47 20.86 L424.49 19.78 L426.52 18.68 L428.54 17.58 L430.56 16.45 L432.58 15.32 L434.6 14.18 L436.62 13.03 L438.64 11.88 L440.66 10.72 L442.68 9.55 L444.7 8.38 L446.72 7.21 L448.74 6.04 L450.76 4.86 L452.78 3.69 L454.8 2.52 L456.82 1.34 L458.84 0.16 L460.86 -1.03 L462.88 -2.22 L464.9 -3.41 L466.92 -4.6 L468.94 -5.79 L470.96 -6.98 L472.98 -8.17 L475 -9.36" stroke="rgb(116,0,139)"/>
<path d="M349.09 -5 L349.81 -3.03 L350.54 -1.05 L351.28 0.92 L352.03 2.9 L352.78 4.87 L353.53 6.85 L354.29 8.82 L355.06 10.8 L355.83 12.77 L356.6 14.75 L357.37 16.72 L358.16 18.7 L358.95 20.67 L359.78 22.65 L360.61 24.62 L361.45 26.6 L362.29 28.57 L363.15 30.55 L364.01 32.52 L364.88 34.5 L365.75 36.47 L366.64 38.45 L367.53 40.42 L368.44 42.39 L369.35 44.37 L370.29 46.34 L371.23 48.32 L372.18 50.29 L373.14 52.27 L374.12 54.24 L375.1 56.22 L376.09 58.19 L377.08 60.17 L378.08 62.14 L379.04 64.12 L380.01 66.09 L380.98 68.07 L381.95 70.04 L382.93 72.02 L383.92 73.99 L384.86 75.97 L385.75 77.94 L386.63 79.92 L387.51 81.89 L388.38 83.87 L389.25 85.84 L390.12 87.82 L390.97 89.79 L391.82 91.76 L392.66 93.74 L393.49 95.71 L394.32 97.69 L395.14 99.66 L396.01 101.64 L396.87 103.61 L397.75 105.59 L398.63 107.56 L399.53 109.54 L400.44 111.51 L401.34 113.49 L402.26 115.46 L403.18 117.44 L404.11 119.41 L405.04 121.39 L405.98 123.36 L406.95 125.34 L408.01 127.31 L409.09 129.29 L410.17 131.26 L411.27 133.24 L412.38 135.21 L413.51 137.18 L414.66 139.16 L415.82 141.13 L416.99 143.11 L418.16 145.08 L419.34 147.06 L420.52 149.03 L421.7 151.01 L422.9 152.98 L424.11 154.96 L425.33 156.93 L426.57 158.91 L427.8 160.88 L429.02 162.86 L430.24 164.83 L431.45 166.81 L432.63 168.78 L433.79 170.76 L434.93 172.73 L436.04 174.71 L437.15 176.68 L438.24 178.66 L439.33 180.63 L440.42 182.61 L441.52 184.58 L442.62 186.55 L443.74 188.53 L444.87 190.5 L446.02 192.48 L447.19 194.45 L448.36 196.43 L449.54 198.4 L450.73 200.38 L451.93 202.35 L453.14 204.33 L454.34 206.3 L455.55 208.28 L456.77 210.25 L457.98 212.23 L459.19 214.2 L460.4 216.18 L461.61 218.15 L462.82 220.13 L464.02 222.1 L465.22 224.08 L466.42 226.05 L467.62 228.03 L468.83 230" stroke="rgb(128,0,128)"/>
<path d="M275 85.56 L277.02 84.77 L279.04 83.98 L281.06 83.19 L283.08 82.41 L285.1 81.63 L287.12 80.86 L289.14 80.1 L291.16 79.29 L293.18 78.45 L295.2 77.61 L297.22 76.77 L299.24 75.94 L301.26 75.11 L303.28 74.27 L305.3 73.44 L307.32 72.6 L309.34 71.75 L311.36 70.9 L313.38 70.05 L315.4 69.19 L317.42 68.33 L319.44 67.47 L321.46 66.6 L323.48 65.73 L325.51 64.87 L327.53 64 L329.55 63.14 L331.57 62.28 L333.59 61.42 L335.61 60.56 L337.63 59.7 L339.65 58.84 L341.67 57.98 L343.69 57.11 L345.71 56.27 L347.73 55.46 L349.75 54.65 L351.77 53.83 L353.79 53 L355.81 52.16 L357.83 51.32 L359.85 50.46 L361.87 49.6 L363.89 48.73 L365.91 47.86 L367.93 46.98 L369.95 46.1 L371.97 45.22 L373.99 44.34 L376.01 43.45 L378.03 42.57 L380.05 41.7 L382.07 40.82 L384.09 39.95 L386.11 39.07 L388.13 38.19 L390.15 37.3 L392.17 36.4 L394.19 35.5 L396.21 34.58 L398.23 33.65 L400.25 32.7 L402.27 31.74 L404.29 30.77 L406.31 29.79 L408.33 28.79 L410.35 27.78 L412.37 26.76 L414.39 25.73 L416.41 24.68 L418.43 23.63 L420.45 22.57 L422.47 21.49 L424.49 20.4 L426.52 19.3 L428.54 18.18 L430.56 17.05 L432.58 15.91 L434.6 14.76 L436.62 13.6 L438.64 12.44 L440.66 11.27 L442.68 10.09 L444.7 8.91 L446.72 7.73 L448.74 6.54 L450.76 5.36 L452.78 4.17 L454.8 2.99 L456.82 1.8 L458.84 0.6 L460.86 -0.59 L462.88 -1.79 L464.9 -2.99 L466.92 -4.2 L468.94 -5.4 L470.96 -6.61 L472.98 -7.81 L475 -9.01" stroke="rgb(139,0,116)"/>
<path d="M349.86 -5 L350.59 -3.03 L351.33 -1.05 L352.09 0.92 L352.85 2.9 L353.62 4.87 L354.39 6.85 L355.16 8.82 L355.94 10.8 L356.72 12.77 L357.51 14.75 L358.3 16.72 L359.1 18.7 L359.91 20.67 L360.76 22.65 L361.61 24.62 L362.47 26.6 L363.33 28.57 L364.21 30.55 L365.09 32.52 L365.98 34.5 L366.88 36.47 L367.79 38.45 L368.71 40.42 L369.64 42.39 L370.58 44.37 L371.53 46.34 L372.5 48.32 L373.48 50.29 L374.47 52.27 L375.47 54.24 L376.48 56.22 L377.5 58.19 L378.52 60.17 L379.55 62.14 L380.54 64.12 L381.54 66.09 L382.53 68.07 L383.53 70.04 L384.54 72.02 L385.56 73.99 L386.52 75.97 L387.43 77.94 L388.33 79.92 L389.22 81.89 L390.12 83.87 L391.01 85.84 L391.9 87.82 L392.78 89.79 L393.64 91.76 L394.5 93.74 L395.35 95.71 L396.2 97.69 L397.04 99.66 L397.92 101.64 L398.81 103.61 L399.71 105.59 L400.62 107.56 L401.55 109.54 L402.48 111.51 L403.41 113.49 L404.36 115.46 L405.3 117.44 L406.26 119.41 L407.22 121.39 L408.19 123.36 L409.19 125.34 L410.29 127.31 L411.41 129.29 L412.54 131.26 L413.68 133.24 L414.84 135.21 L416.02 137.18 L417.21 139.16 L418.42 141.13 L419.64 143.11 L420.87 145.08 L422.1 147.06 L423.32 149.03 L424.55 151.01 L425.79 152.98 L427.06 154.96 L428.33 156.93 L429.61 158.91 L430.89 160.88 L432.17 162.86 L433.43 164.83 L434.67 166.81 L435.88 168.78 L437.06 170.76 L438.22 172.73 L439.34 174.71 L440.44 176.68 L441.53 178.66 L442.61 180.63 L443.69 182.61 L444.77 184.58 L445.87 186.55 L446.98 188.53 L448.11 190.5 L449.26 192.48 L450.42 194.45 L451.59 196.43 L452.77 198.4 L453.96 200.38 L455.16 202.35 L456.36 204.33 L457.57 206.3 L458.78 208.28 L460 210.25 L461.21 212.23 L462.43 214.2 L463.64 216.18 L464.85 218.15 L466.05 220.13 L467.25 222.1 L468.45 224.08 L469.65 226.05 L470.86 228.03 L472.06 230" stroke="rgb(149,0,106)"/>
<path d="M275 88.17 L277.02 87.36 L279.04 86.54 L281.06 85.73 L283.08 84.93 L285.1 84.12 L287.12 83.33 L289.14 82.54 L291.16 81.69 L293.18 80.8 L295.2 79.92 L297.22 79.04 L299.24 78.16 L301.26 77.28 L303.28 76.41 L305.3 75.53 L307.32 74.65 L309.34 73.76 L311.36 72.87 L313.38 71.98 L315.4 71.09 L317.42 70.19 L319.44 69.29 L321.46 68.39 L323.48 67.48 L325.51 66.58 L327.53 65.68 L329.55 64.79 L331.57 63.89 L333.59 63 L335.61 62.11 L337.63 61.21 L339.65 60.32 L341.67 59.42 L343.69 58.53 L345.71 57.65 L347.73 56.82 L349.75 55.99 L351.77 55.15 L353.79 54.3 L355.81 53.44 L357.83 52.57 L359.85 51.69 L361.87 50.81 L363.89 49.92 L365.91 49.02 L367.93 48.12 L369.95 47.22 L371.97 46.31 L373.99 45.41 L376.01 44.5 L378.03 43.6 L380.05 42.7 L382.07 41.8 L384.09 40.91 L386.11 40.01 L388.13 39.1 L390.15 38.19 L392.17 37.27 L394.19 36.35 L396.21 35.41 L398.23 34.46 L400.25 33.5 L402.27 32.52 L404.29 31.54 L406.31 30.54 L408.33 29.53 L410.35 28.51 L412.37 27.48 L414.39 26.44 L416.41 25.39 L418.43 24.33 L420.45 23.26 L422.47 22.17 L424.49 21.07 L426.52 19.96 L428.54 18.83 L430.56 17.69 L432.58 16.54 L434.6 15.38 L436.62 14.21 L438.64 13.04 L440.66 11.85 L442.68 10.67 L444.7 9.48 L446.72 8.28 L448.74 7.09 L450.76 5.89 L452.78 4.69 L454.8 3.49 L456.82 2.29 L458.84 1.08 L460.86 -0.13 L462.88 -1.34 L464.9 -2.55 L466.92 -3.77 L468.94 -4.99 L470.96 -6.21 L472.98 -7.42 L475 -8.64" stroke="rgb(162,0,93)"/>
<path d="M350.67 -5 L351.42 -3.03 L352.18 -1.05 L352.95 0.92 L353.73 2.9 L354.51 4.87 L355.3 6.85 L356.08 8.82 L356.88 10.8 L357.68 12.77 L358.48 14.75 L359.29 16.72 L360.1 18.7 L360.93 20.67 L361.79 22.65 L362.66 24.62 L363.54 26.6 L364.43 28.57 L365.32 30.55 L366.23 32.52 L367.14 34.5 L368.06 36.47 L368.99 38.45 L369.93 40.42 L370.89 42.39 L371.86 44.37 L372.84 46.34 L373.83 48.32 L374.84 50.29 L375.85 52.27 L376.88 54.24 L377.92 56.22 L378.96 58.19 L380.02 60.17 L381.08 62.14 L382.09 64.12 L383.11 66.09 L384.13 68.07 L385.16 70.04 L386.2 72.02 L387.25 73.99 L388.24 75.97 L389.17 77.94 L390.09 79.92 L391.02 81.89 L391.94 83.87 L392.86 85.84 L393.77 87.82 L394.67 89.79 L395.57 91.76 L396.45 93.74 L397.33 95.71 L398.2 97.69 L399.06 99.66 L399.97 101.64 L400.89 103.61 L401.81 105.59 L402.76 107.56 L403.71 109.54 L404.68 111.51 L405.65 113.49 L406.62 115.46 L407.61 117.44 L408.6 119.41 L409.6 121.39 L410.6 123.36 L411.64 125.34 L412.78 127.31 L413.95 129.29 L415.12 131.26 L416.31 133.24 L417.52 135.21 L418.75 137.18 L420 139.16 L421.27 141.13 L422.54 143.11 L423.82 145.08 L425.1 147.06 L426.38 149.03 L427.66 151.01 L428.96 152.98 L430.27 154.96 L431.6 156.93 L432.94 158.91 L434.27 160.88 L435.6 162.86 L436.9 164.83 L438.18 166.81 L439.43 168.78 L440.64 170.76 L441.81 172.73 L442.94 174.71 L444.04 176.68 L445.12 178.66 L446.19 180.63 L447.26 182.61 L448.33 184.58 L449.41 186.55 L450.51 188.53 L451.63 190.5 L452.78 192.48 L453.94 194.45 L455.11 196.43 L456.29 198.4 L457.48 200.38 L458.68 202.35 L459.88 204.33 L461.09 206.3 L462.31 208.28 L463.52 210.25 L464.74 212.23 L465.95 214.2 L467.16 216.18 L468.37 218.15 L469.58 220.13 L470.78 222.1 L471.98 224.08 L473.18 226.05 L474.39 228.03 L475.59 230" stroke="rgb(170,0,85)"/>
<path d="M275 91.1 L277.02 90.26 L279.04 89.42 L281.06 88.58 L283.08 87.74 L285.1 86.91 L287.12 86.09 L289.14 85.27 L291.16 84.39 L293.18 83.47 L295.2 82.55 L297.22 81.64 L299.24 80.73 L301.26 79.82 L303.28 78.92 L305.3 78.01 L307.32 77.1 L309.34 76.18 L311.36 75.27 L313.38 74.35 L315.4 73.43 L317.42 72.5 L319.44 71.58 L321.46 70.65 L323.48 69.72 L325.51 68.8 L327.53 67.87 L329.55 66.95 L331.57 66.03 L333.59 65.11 L335.61 64.19 L337.63 63.27 L339.65 62.35 L341.67 61.43 L343.69 60.5 L345.71 59.6 L347.73 58.74 L349.75 57.88 L351.77 57.01 L353.79 56.13 L355.81 55.24 L357.83 54.34 L359.85 53.43 L361.87 52.51 L363.89 51.59 L365.91 50.66 L367.93 49.73 L369.95 48.79 L371.97 47.85 L373.99 46.92 L376.01 45.98 L378.03 45.04 L380.05 44.11 L382.07 43.18 L384.09 42.25 L386.11 41.32 L388.13 40.39 L390.15 39.44 L392.17 38.5 L394.19 37.54 L396.21 36.58 L398.23 35.6 L400.25 34.61 L402.27 33.62 L404.29 32.61 L406.31 31.6 L408.33 30.57 L410.35 29.54 L412.37 28.5 L414.39 27.44 L416.41 26.38 L418.43 25.31 L420.45 24.22 L422.47 23.12 L424.49 22.01 L426.52 20.88 L428.54 19.74 L430.56 18.59 L432.58 17.42 L434.6 16.25 L436.62 15.07 L438.64 13.88 L440.66 12.68 L442.68 11.48 L444.7 10.27 L446.72 9.06 L448.74 7.85 L450.76 6.64 L452.78 5.42 L454.8 4.2 L456.82 2.98 L458.84 1.76 L460.86 0.53 L462.88 -0.7 L464.9 -1.92 L466.92 -3.16 L468.94 -4.4 L470.96 -5.64 L472.98 -6.88 L475 -8.11" stroke="rgb(185,0,70)"/>
<path d="M351.58 -5 L352.35 -3.03 L353.12 -1.05 L353.91 0.92 L354.71 2.9 L355.51 4.87 L356.31 6.85 L357.12 8.82 L357.93 10.8 L358.74 12.77 L359.56 14.75 L360.39 16.72 L361.22 18.7 L362.07 20.67 L362.95 22.65 L363.84 24.62 L364.74 26.6 L365.64 28.57 L366.56 30.55 L367.48 32.52 L368.42 34.5 L369.36 36.47 L370.31 38.45 L371.27 40.42 L372.25 42.39 L373.24 44.37 L374.25 46.34 L375.26 48.32 L376.29 50.29 L377.33 52.27 L378.39 54.24 L379.45 56.22 L380.52 58.19 L381.6 60.17 L382.69 62.14 L383.73 64.12 L384.78 66.09 L385.83 68.07 L386.89 70.04 L387.96 72.02 L389.04 73.99 L390.07 75.97 L391.03 77.94 L391.99 79.92 L392.95 81.89 L393.91 83.87 L394.88 85.84 L395.83 87.82 L396.77 89.79 L397.71 91.76 L398.63 93.74 L399.55 95.71 L400.46 97.69 L401.37 99.66 L402.32 101.64 L403.27 103.61 L404.24 105.59 L405.23 107.56 L406.23 109.54 L407.24 111.51 L408.26 113.49 L409.28 115.46 L410.32 117.44 L411.36 119.41 L412.41 121.39 L413.47 123.36 L414.56 125.34 L415.76 127.31 L416.98 129.29 L418.21 131.26 L419.45 133.24 L420.72 135.21 L422.01 137.18 L423.33 139.16 L424.66 141.13 L426 143.11 L427.35 145.08 L428.7 147.06 L430.04 149.03 L431.37 151.01 L432.73 152.98 L434.12 154.96 L435.51 156.93 L436.91 158.91 L438.31 160.88 L439.69 162.86 L441.05 164.83 L442.38 166.81 L443.67 168.78 L444.91 170.76 L446.1 172.73 L447.24 174.71 L448.34 176.68 L449.41 178.66 L450.47 180.63 L451.52 182.61 L452.57 184.58 L453.64 186.55 L454.73 188.53 L455.85 190.5 L456.99 192.48 L458.15 194.45 L459.31 196.43 L460.49 198.4 L461.69 200.38 L462.88 202.35 L464.09 204.33 L465.3 206.3 L466.51 208.28 L467.73 210.25 L468.95 212.23 L470.16 214.2 L471.38 216.18 L472.59 218.15 L473.79 220.13 L474.99 222.1 L476.19 224.08 L477.4 226.05 L478.6 228.03 L479.8 230" stroke="rgb(191,0,64)"/>
<path d="M275 94.35 L277.02 93.47 L279.04 92.6 L281.06 91.73 L283.08 90.86 L285.1 90 L287.12 89.14 L289.14 88.29 L291.16 87.39 L293.18 86.47 L295.2 85.54 L297.22 84.62 L299.24 83.7 L301.26 82.79 L303.28 81.87 L305.3 80.95 L307.32 80.03 L309.34 79.11 L311.36 78.19 L313.38 77.26 L315.4 76.33 L317.42 75.4 L319.44 74.47 L321.46 73.53 L323.48 72.59 L325.51 71.66 L327.53 70.73 L329.55 69.8 L331.57 68.87 L333.59 67.94 L335.61 67.01 L337.63 66.07 L339.65 65.14 L341.67 64.2 L343.69 63.25 L345.71 62.33 L347.73 61.43 L349.75 60.53 L351.77 59.61 L353.79 58.69 L355.81 57.75 L357.83 56.81 L359.85 55.85 L361.87 54.89 L363.89 53.93 L365.91 52.95 L367.93 51.97 L369.95 50.99 L371.97 50.01 L373.99 49.03 L376.01 48.04 L378.03 47.07 L380.05 46.09 L382.07 45.12 L384.09 44.14 L386.11 43.17 L388.13 42.19 L390.15 41.2 L392.17 40.21 L394.19 39.21 L396.21 38.21 L398.23 37.2 L400.25 36.18 L402.27 35.15 L404.29 34.12 L406.31 33.08 L408.33 32.03 L410.35 30.98 L412.37 29.92 L414.39 28.85 L416.41 27.77 L418.43 26.68 L420.45 25.58 L422.47 24.46 L424.49 23.33 L426.52 22.18 L428.54 21.02 L430.56 19.85 L432.58 18.66 L434.6 17.47 L436.62 16.27 L438.64 15.06 L440.66 13.84 L442.68 12.62 L444.7 11.39 L446.72 10.16 L448.74 8.92 L450.76 7.68 L452.78 6.44 L454.8 5.2 L456.82 3.96 L458.84 2.71 L460.86 1.46 L462.88 0.2 L464.9 -1.05 L466.92 -2.31 L468.94 -3.58 L470.96 -4.85 L472.98 -6.11 L475 -7.38" stroke="rgb(209,0,46)"/>
<path d="M352.58 -5 L353.36 -3.03 L354.16 -1.05 L354.97 0.92 L355.78 2.9 L356.6 4.87 L357.42 6.85 L358.25 8.82 L359.08 10.8 L359.91 12.77 L360.75 14.75 L361.6 16.72 L362.44 18.7 L363.31 20.67 L364.21 22.65 L365.12 24.62 L366.04 26.6 L366.96 28.57 L367.9 30.55 L368.84 32.52 L369.79 34.5 L370.75 36.47 L371.73 38.45 L372.71 40.42 L373.71 42.39 L374.72 44.37 L375.75 46.34 L376.79 48.32 L377.84 50.29 L378.9 52.27 L379.98 54.24 L381.07 56.22 L382.16 58.19 L383.27 60.17 L384.38 62.14 L385.45 64.12 L386.53 66.09 L387.61 68.07 L388.7 70.04 L389.8 72.02 L390.92 73.99 L391.99 75.97 L393 77.94 L394.01 79.92 L395.01 81.89 L396.03 83.87 L397.04 85.84 L398.05 87.82 L399.05 89.79 L400.04 91.76 L401.02 93.74 L401.99 95.71 L402.96 97.69 L403.92 99.66 L404.92 101.64 L405.92 103.61 L406.94 105.59 L407.98 107.56 L409.05 109.54 L410.12 111.51 L411.2 113.49 L412.28 115.46 L413.38 117.44 L414.49 119.41 L415.6 121.39 L416.73 123.36 L417.88 125.34 L419.15 127.31 L420.43 129.29 L421.72 131.26 L423.03 133.24 L424.37 135.21 L425.73 137.18 L427.12 139.16 L428.53 141.13 L429.95 143.11 L431.37 145.08 L432.79 147.06 L434.2 149.03 L435.6 151.01 L437.04 152.98 L438.49 154.96 L439.96 156.93 L441.44 158.91 L442.91 160.88 L444.36 162.86 L445.78 164.83 L447.16 166.81 L448.5 168.78 L449.77 170.76 L450.98 172.73 L452.13 174.71 L453.23 176.68 L454.3 178.66 L455.34 180.63 L456.38 182.61 L457.41 184.58 L458.46 186.55 L459.53 188.53 L460.65 190.5 L461.79 192.48 L462.94 194.45 L464.11 196.43 L465.29 198.4 L466.48 200.38 L467.68 202.35 L468.88 204.33 L470.09 206.3 L471.31 208.28 L472.53 210.25 L473.75 212.23 L474.96 214.2 L476.18 216.18 L477.39 218.15 L478.59 220.13 L479.79 222.1 L481 224.08 L482.2 226.05 L483.4 228.03 L484.61 230" stroke="rgb(212,0,42)"/>
<path d="M275 97.93 L277.02 97.02 L279.04 96.12 L281.06 95.21 L283.08 94.31 L285.1 93.41 L287.12 92.52 L289.14 91.63 L291.16 90.72 L293.18 89.79 L295.2 88.87 L297.22 87.94 L299.24 87.02 L301.26 86.1 L303.28 85.18 L305.3 84.26 L307.32 83.34 L309.34 82.41 L311.36 81.49 L313.38 80.56 L315.4 79.63 L317.42 78.69 L319.44 77.75 L321.46 76.81 L323.48 75.87 L325.51 74.93 L327.53 74 L329.55 73.06 L331.57 72.12 L333.59 71.19 L335.61 70.25 L337.63 69.3 L339.65 68.35 L341.67 67.4 L343.69 66.44 L345.71 65.49 L347.73 64.55 L349.75 63.59 L351.77 62.63 L353.79 61.66 L355.81 60.67 L357.83 59.67 L359.85 58.67 L361.87 57.66 L363.89 56.63 L365.91 55.61 L367.93 54.58 L369.95 53.55 L371.97 52.51 L373.99 51.48 L376.01 50.44 L378.03 49.41 L380.05 48.38 L382.07 47.36 L384.09 46.33 L386.11 45.3 L388.13 44.27 L390.15 43.24 L392.17 42.2 L394.19 41.15 L396.21 40.11 L398.23 39.05 L400.25 37.99 L402.27 36.93 L404.29 35.87 L406.31 34.8 L408.33 33.73 L410.35 32.65 L412.37 31.57 L414.39 30.48 L416.41 29.38 L418.43 28.27 L420.45 27.15 L422.47 26.01 L424.49 24.85 L426.52 23.68 L428.54 22.5 L430.56 21.31 L432.58 20.1 L434.6 18.89 L436.62 17.66 L438.64 16.43 L440.66 15.19 L442.68 13.94 L444.7 12.69 L446.72 11.43 L448.74 10.16 L450.76 8.9 L452.78 7.63 L454.8 6.36 L456.82 5.08 L458.84 3.8 L460.86 2.52 L462.88 1.24 L464.9 -0.04 L466.92 -1.33 L468.94 -2.63 L470.96 -3.93 L472.98 -5.23 L475 -6.53" stroke="rgb(232,0,23)"/>
<path d="M354.04 -5 L354.85 -3.03 L355.67 -1.05 L356.51 0.92 L357.35 2.9 L358.2 4.87 L359.05 6.85 L359.9 8.82 L360.76 10.8 L361.62 12.77 L362.49 14.75 L363.36 16.72 L364.24 18.7 L365.13 20.67 L366.04 22.65 L366.96 24.62 L367.89 26.6 L368.83 28.57 L369.77 30.55 L370.73 32.52 L371.69 34.5 L372.67 36.47 L373.65 38.45 L374.65 40.42 L375.66 42.39 L376.69 44.37 L377.72 46.34 L378.78 48.32 L379.84 50.29 L380.92 52.27 L382 54.24 L383.1 56.22 L384.21 58.19 L385.33 60.17 L386.46 62.14 L387.56 64.12 L388.67 66.09 L389.79 68.07 L390.92 70.04 L392.06 72.02 L393.22 73.99 L394.37 75.97 L395.48 77.94 L396.59 79.92 L397.72 81.89 L398.85 83.87 L399.98 85.84 L401.12 87.82 L402.25 89.79 L403.37 91.76 L404.48 93.74 L405.59 95.71 L406.7 97.69 L407.8 99.66 L408.92 101.64 L410.03 103.61 L411.16 105.59 L412.33 107.56 L413.52 109.54 L414.72 111.51 L415.93 113.49 L417.16 115.46 L418.39 117.44 L419.64 119.41 L420.91 121.39 L422.18 123.36 L423.48 125.34 L424.85 127.31 L426.24 129.29 L427.64 131.26 L429.06 133.24 L430.51 135.21 L431.99 137.18 L433.51 139.16 L435.04 141.13 L436.59 143.11 L438.13 145.08 L439.68 147.06 L441.21 149.03 L442.73 151.01 L444.28 152.98 L445.86 154.96 L447.46 156.93 L449.06 158.91 L450.65 160.88 L452.21 162.86 L453.74 164.83 L455.22 166.81 L456.63 168.78 L457.96 170.76 L459.21 172.73 L460.38 174.71 L461.48 176.68 L462.53 178.66 L463.55 180.63 L464.55 182.61 L465.55 184.58 L466.58 186.55 L467.63 188.53 L468.73 190.5 L469.86 192.48 L471.01 194.45 L472.17 196.43 L473.35 198.4 L474.54 200.38 L475.74 202.35 L476.95 204.33 L478.16 206.3 L479.38 208.28 L480.6 210.25 L481.82 212.23 L483.04 214.2 L484.26 216.18 L485.47 218.15 L486.68 220.13 L487.88 222.1 L489.08 224.08 L490.28 226.05 L491.49 228.03 L492.69 230" stroke="rgb(234,0,21)"/>
<path d="M355.7 -5 L356.55 -3.03 L357.4 -1.05 L358.27 0.92 L359.14 2.9 L360.02 4.87 L360.9 6.85 L361.79 8.82 L362.68 10.8 L363.57 12.77 L364.47 14.75 L365.37 16.72 L366.28 18.7 L367.2 20.67 L368.12 22.65 L369.05 24.62 L369.99 26.6 L370.94 28.57 L371.89 30.55 L372.86 32.52 L373.83 34.5 L374.81 36.47 L375.81 38.45 L376.82 40.42 L377.83 42.39 L378.87 44.37 L379.91 46.34 L380.97 48.32 L382.05 50.29 L383.13 52.27 L384.22 54.24 L385.33 56.22 L386.45 58.19 L387.57 60.17 L388.71 62.14 L389.85 64.12 L391 66.09 L392.16 68.07 L393.32 70.04 L394.51 72.02 L395.72 73.99 L396.95 75.97 L398.2 77.94 L399.45 79.92 L400.71 81.89 L401.99 83.87 L403.28 85.84 L404.57 87.82 L405.86 89.79 L407.15 91.76 L408.43 93.74 L409.72 95.71 L411 97.69 L412.28 99.66 L413.55 101.64 L414.8 103.61 L416.06 105.59 L417.38 107.56 L418.73 109.54 L420.09 111.51 L421.47 113.49 L422.87 115.46 L424.28 117.44 L425.71 119.41 L427.16 121.39 L428.62 123.36 L430.1 125.34 L431.6 127.31 L433.11 129.29 L434.64 131.26 L436.19 133.24 L437.77 135.21 L439.4 137.18 L441.05 139.16 L442.74 141.13 L444.43 143.11 L446.13 145.08 L447.82 147.06 L449.49 149.03 L451.15 151.01 L452.84 152.98 L454.57 154.96 L456.32 156.93 L458.07 158.91 L459.8 160.88 L461.5 162.86 L463.15 164.83 L464.74 166.81 L466.24 168.78 L467.65 170.76 L468.94 172.73 L470.12 174.71 L471.22 176.68 L472.25 178.66 L473.24 180.63 L474.21 182.61 L475.18 184.58 L476.17 186.55 L477.2 188.53 L478.28 190.5 L479.41 192.48 L480.55 194.45 L481.71 196.43 L482.89 198.4 L484.08 200.38 L485.28 202.35 L486.49 204.33 L487.7 206.3 L488.92 208.28 L490.15 210.25 L491.37 212.23 L492.59 214.2 L493.81 216.18 L495.03 218.15 L496.23 220.13 L497.43 222.1 L498.64 224.08 L499.84 226.05 L501.04 228.03 L502.25 230" stroke="rgb(255,0,0)"/>
<path d="M275 101.66 L277.02 100.71 L279.04 99.77 L281.06 98.83 L283.08 97.89 L285.1 96.96 L287.12 96.03 L289.14 95.1 L291.16 94.18 L293.18 93.26 L295.2 92.34 L297.22 91.42 L299.24 90.5 L301.26 89.58 L303.28 88.67 L305.3 87.75 L307.32 86.83 L309.34 85.91 L311.36 84.98 L313.38 84.06 L315.4 83.13 L317.42 82.2 L319.44 81.26 L321.46 80.32 L323.48 79.38 L325.51 78.44 L327.53 77.51 L329.55 76.57 L331.57 75.63 L333.59 74.69 L335.61 73.75 L337.63 72.79 L339.65 71.84 L341.67 70.87 L343.69 69.9 L345.71 68.92 L347.73 67.93 L349.75 66.93 L351.77 65.91 L353.79 64.88 L355.81 63.84 L357.83 62.79 L359.85 61.72 L361.87 60.65 L363.89 59.58 L365.91 58.49 L367.93 57.41 L369.95 56.32 L371.97 55.23 L373.99 54.13 L376.01 53.04 L378.03 51.96 L380.05 50.87 L382.07 49.79 L384.09 48.71 L386.11 47.62 L388.13 46.54 L390.15 45.45 L392.17 44.36 L394.19 43.26 L396.21 42.17 L398.23 41.07 L400.25 39.96 L402.27 38.86 L404.29 37.76 L406.31 36.67 L408.33 35.57 L410.35 34.47 L412.37 33.36 L414.39 32.25 L416.41 31.13 L418.43 30 L420.45 28.85 L422.47 27.69 L424.49 26.51 L426.52 25.32 L428.54 24.11 L430.56 22.89 L432.58 21.66 L434.6 20.42 L436.62 19.17 L438.64 17.92 L440.66 16.65 L442.68 15.37 L444.7 14.09 L446.72 12.81 L448.74 11.51 L450.76 10.22 L452.78 8.92 L454.8 7.61 L456.82 6.3 L458.84 5 L460.86 3.69 L462.88 2.38 L464.9 1.07 L466.92 -0.26 L468.94 -1.6 L470.96 -2.93 L472.98 -4.27 L475 -5.6" stroke="rgb(255,0,0)"/>
</g>
<path d="M438.6 41.6 L437.34 42.3 L436.08 43 L434.81 43.7 L433.55 44.4 L432.29 45.1 L431.03 45.8 L429.76 46.5 L428.5 47.2 L427.24 47.9 L425.98 48.6 L424.72 49.31 L423.46 50.01 L422.2 50.72 L420.94 51.43 L419.69 52.14 L418.43 52.85 L417.19 53.57 L415.94 54.3 L414.71 55.04 L413.48 55.79 L412.26 56.57 L411.05 57.37 L409.85 58.2 L408.68 59.07 L407.57 59.99 L406.52 60.98 L405.56 62.05 L404.7 63.21 L403.95 64.45 L403.29 65.75 L402.74 67.1 L402.29 68.48 L401.94 69.89 L401.71 71.32 L401.6 72.76 L401.63 74.2 L401.76 75.63 L401.96 77.07 L402.2 78.5 L426.9 135.2 L462.5 135.2 L462.5 187 L454.6 190.2 L428 162 L353 70.5 L305.1 82.5 L293.4 83.1 L293.4 76.6 L311.7 77.5 L348.9 43.2" fill="none" stroke="#008000" stroke-width="3.3" stroke-linejoin="miter" clip-path="url(#cb)"/>
<path d="M334.4 0 L348.9 43.2" fill="none" stroke="#000" stroke-width="1.3" clip-path="url(#cb)"/>
<path d="M438.6 41.6 L441.54 39.59 L444.47 37.58 L447.39 35.55 L450.29 33.49 L453.17 31.41 L456.02 29.29 L458.85 27.13 L461.66 24.95 L464.45 22.75 L467.23 20.53 L470 18.3" fill="none" stroke="#000" stroke-width="1.3" clip-path="url(#cb)"/>
<rect x="283.5" y="0.3" width="185.3" height="220.2" fill="none" stroke="#3a3a3a" stroke-width="0.95"/>
<path d="M283.5 3.78 h-2.2 M283.5 9.64 h-2.2 M283.5 15.5 h-3.2 M283.5 21.36 h-2.2 M283.5 27.22 h-2.2 M283.5 33.07 h-2.2 M283.5 38.93 h-2.2 M283.5 44.79 h-3.2 M283.5 50.65 h-2.2 M283.5 56.51 h-2.2 M283.5 62.36 h-2.2 M283.5 68.22 h-2.2 M283.5 74.08 h-3.2 M283.5 79.94 h-2.2 M283.5 85.8 h-2.2 M283.5 91.65 h-2.2 M283.5 97.51 h-2.2 M283.5 103.37 h-3.2 M283.5 109.23 h-2.2 M283.5 115.09 h-2.2 M283.5 120.94 h-2.2 M283.5 126.8 h-2.2 M283.5 132.66 h-3.2 M283.5 138.52 h-2.2 M283.5 144.38 h-2.2 M283.5 150.23 h-2.2 M283.5 156.09 h-2.2 M283.5 161.95 h-3.2 M283.5 167.81 h-2.2 M283.5 173.67 h-2.2 M283.5 179.52 h-2.2 M283.5 185.38 h-2.2 M283.5 191.24 h-3.2 M283.5 197.1 h-2.2 M283.5 202.96 h-2.2 M283.5 208.81 h-2.2 M283.5 214.67 h-2.2 M283.5 220.53 h-3.2 M286.57 220.5 v2.2 M301.31 220.5 v2.2 M316.06 220.5 v2.2 M330.8 220.5 v3.2 M345.55 220.5 v2.2 M360.29 220.5 v2.2 M375.04 220.5 v2.2 M389.78 220.5 v3.2 M404.52 220.5 v2.2 M419.27 220.5 v2.2 M434.02 220.5 v2.2 M448.76 220.5 v3.2 M463.51 220.5 v2.2" stroke="#3a3a3a" stroke-width="0.75" fill="none"/>
<text x="278.3" y="19.5" text-anchor="end" class="tl">−1.0</text>
<text x="278.3" y="48.79" text-anchor="end" class="tl">−1.1</text>
<text x="278.3" y="78.08" text-anchor="end" class="tl">−1.2</text>
<text x="278.3" y="107.37" text-anchor="end" class="tl">−1.3</text>
<text x="278.3" y="136.66" text-anchor="end" class="tl">−1.4</text>
<text x="278.3" y="165.95" text-anchor="end" class="tl">−1.5</text>
<text x="278.3" y="195.24" text-anchor="end" class="tl">−1.6</text>
<text x="278.3" y="224.53" text-anchor="end" class="tl">−1.7</text>
<text x="330.8" y="234.7" text-anchor="middle" class="tl">1.4</text>
<text x="389.78" y="234.7" text-anchor="middle" class="tl">1.6</text>
<text x="448.76" y="234.7" text-anchor="middle" class="tl">1.8</text>
<text x="375.98" y="248.3" text-anchor="middle" class="al">R (m)</text>
<text transform="translate(250.9 110.5) rotate(-90)" text-anchor="middle" class="al">Z (m)</text>
<text x="293.5" y="17.2" class="pl">b)</text>
<clipPath id="cc"><rect x="518.5" y="0.3" width="184.8" height="220.2"/></clipPath>
<g fill="none" stroke="#ff00ff" stroke-width="0.55" clip-path="url(#cc)"><path d="M514 14.5 L514.74 13.51 L515.48 12.52 L516.23 11.53 L516.98 10.54 L517.74 9.56 L518.51 8.59 L519.28 7.63 L520.06 6.67 L520.84 5.7 L521.59 4.72 L522.32 3.72 L523.01 2.69 L523.67 1.64 L524.29 0.57 L524.88 -0.52 L525.43 -1.63 L525.97 -2.75 L526.49 -3.87 L527 -5"/><path d="M510 38.2 L511.04 37.74 L512.09 37.28 L513.13 36.82 L514.17 36.36 L515.21 35.89 L516.25 35.42 L517.29 34.95 L518.32 34.48 L519.36 34 L520.39 33.52 L521.42 33.04 L522.45 32.55 L523.48 32.06 L524.5 31.56 L525.52 31.06 L526.55 30.56 L527.57 30.04 L528.58 29.53 L529.6 29.01 L530.61 28.48 L531.62 27.95 L532.63 27.41 L533.63 26.86 L534.62 26.3 L535.61 25.72 L536.59 25.14 L537.55 24.53 L538.51 23.91 L539.45 23.26 L540.37 22.6 L541.28 21.91 L542.18 21.19 L543.05 20.45 L543.9 19.68 L544.73 18.89 L545.52 18.07 L546.29 17.22 L547.01 16.34 L547.7 15.43 L548.34 14.49 L548.94 13.52 L549.5 12.52 L550.02 11.51 L550.51 10.47 L550.96 9.42 L551.38 8.35 L551.77 7.28 L552.14 6.2 L552.48 5.11 L552.8 4.01 L553.1 2.91 L553.38 1.81 L553.64 0.7 L553.89 -0.41 L554.13 -1.53 L554.35 -2.64 L554.57 -3.76 L554.79 -4.88 L555 -6"/><path d="M508 60.5 L509.92 60.16 L511.84 59.82 L513.77 59.48 L515.69 59.15 L517.62 58.84 L519.55 58.54 L521.48 58.25 L523.41 57.96 L525.35 57.67 L527.27 57.36 L529.2 57.03 L531.12 56.68 L533.03 56.28 L534.93 55.85 L536.83 55.37 L538.71 54.86 L540.59 54.32 L542.46 53.74 L544.32 53.13 L546.16 52.49 L548 51.82 L549.82 51.12 L551.63 50.37 L553.42 49.59 L555.18 48.75 L556.93 47.87 L558.65 46.94 L560.34 45.95 L561.99 44.91 L563.6 43.8 L565.17 42.64 L566.7 41.42 L568.17 40.13 L569.6 38.8 L570.98 37.41 L572.3 35.96 L573.57 34.47 L574.78 32.93 L575.92 31.35 L576.99 29.71 L577.98 28.03 L578.89 26.3 L579.73 24.54 L580.51 22.74 L581.23 20.92 L581.9 19.08 L582.51 17.23 L583.04 15.35 L583.49 13.45 L583.84 11.53 L584.12 9.6 L584.34 7.65 L584.5 5.7 L584.63 3.76 L584.73 1.81 L584.81 -0.15 L584.87 -2.1 L584.94 -4.05 L585 -6"/><path d="M508 82.9 L509.85 83 L511.7 83.1 L513.55 83.2 L515.4 83.31 L517.25 83.42 L519.1 83.54 L520.95 83.67 L522.8 83.8 L524.65 83.94 L526.49 84.1 L528.34 84.26 L530.18 84.43 L532.03 84.61 L533.87 84.79 L535.72 84.99 L537.56 85.2 L539.4 85.43 L541.25 85.66 L543.09 85.91 L544.93 86.17 L546.77 86.46 L548.6 86.77 L550.42 87.12 L552.23 87.5 L554.04 87.91 L555.83 88.37 L557.61 88.88 L559.38 89.44 L561.13 90.03 L562.87 90.67 L564.6 91.34 L566.33 92.03 L568.04 92.75 L569.74 93.49 L571.44 94.24 L573.13 95 L574.81 95.79 L576.48 96.59 L578.14 97.42 L579.78 98.28 L581.41 99.17 L583.02 100.09 L584.61 101.05 L586.18 102.05 L587.72 103.09 L589.24 104.16 L590.72 105.28 L592.17 106.43 L593.59 107.63 L594.96 108.88 L596.3 110.16 L597.6 111.48 L598.87 112.84 L600.1 114.23 L601.31 115.64 L602.49 117.08 L603.64 118.53 L604.77 120.01 L605.88 121.5 L606.96 123 L608.03 124.52 L609.07 126.05 L610.09 127.59 L611.1 129.15 L612.08 130.72 L613.03 132.31 L613.96 133.92 L614.84 135.55 L615.69 137.21 L616.49 138.88 L617.26 140.57 L617.98 142.29 L618.65 144.02 L619.28 145.77 L619.85 147.53 L620.38 149.3 L620.86 151.09 L621.3 152.89 L621.7 154.71 L622.06 156.52 L622.4 158.35 L622.71 160.18 L623 162.02 L623.28 163.86 L623.52 165.7 L623.73 167.54 L623.89 169.39 L623.98 171.24 L624 173.09 L623.95 174.94 L623.83 176.79 L623.65 178.64 L623.41 180.49 L623.12 182.32 L622.78 184.15 L622.41 185.96 L621.99 187.77 L621.55 189.57 L621.08 191.36 L620.58 193.15 L620.06 194.93 L619.52 196.71 L618.98 198.48 L618.42 200.25 L617.86 202.02 L617.29 203.79 L616.7 205.55 L616.1 207.3 L615.47 209.05 L614.82 210.78 L614.13 212.5 L613.41 214.21 L612.65 215.9 L611.87 217.58 L611.08 219.26 L610.3 220.94 L609.52 222.62 L608.76 224.31 L608 226"/><path d="M508 102.5 L509.52 103.17 L511.03 103.85 L512.55 104.52 L514.06 105.21 L515.57 105.9 L517.07 106.61 L518.56 107.33 L520.05 108.07 L521.53 108.82 L523 109.58 L524.47 110.36 L525.93 111.14 L527.38 111.93 L528.84 112.73 L530.29 113.54 L531.74 114.35 L533.19 115.16 L534.63 115.97 L536.08 116.79 L537.53 117.6 L538.98 118.4 L540.43 119.21 L541.87 120.03 L543.31 120.85 L544.75 121.69 L546.17 122.54 L547.59 123.39 L549.01 124.27 L550.41 125.15 L551.81 126.05 L553.2 126.96 L554.57 127.89 L555.94 128.83 L557.3 129.78 L558.65 130.75 L559.98 131.74 L561.31 132.74 L562.61 133.76 L563.9 134.81 L565.15 135.9 L566.38 137.02 L567.57 138.18 L568.72 139.38 L569.84 140.61 L570.92 141.88 L571.95 143.18 L572.95 144.51 L573.91 145.87 L574.83 147.26 L575.7 148.67 L576.53 150.1 L577.33 151.56 L578.09 153.04 L578.81 154.54 L579.5 156.05 L580.16 157.58 L580.78 159.12 L581.38 160.67 L581.94 162.23 L582.47 163.8 L582.97 165.39 L583.45 166.98 L583.89 168.58 L584.3 170.19 L584.69 171.8 L585.04 173.43 L585.37 175.06 L585.67 176.69 L585.94 178.33 L586.18 179.97 L586.4 181.62 L586.58 183.27 L586.74 184.93 L586.87 186.58 L586.98 188.24 L587.05 189.9 L587.1 191.56 L587.12 193.22 L587.12 194.88 L587.1 196.54 L587.06 198.2 L587.01 199.85 L586.93 201.51 L586.84 203.17 L586.74 204.82 L586.63 206.48 L586.51 208.13 L586.39 209.79 L586.26 211.44 L586.14 213.1 L586.01 214.75 L585.88 216.41 L585.76 218.06 L585.65 219.72 L585.55 221.37 L585.45 223.03 L585.36 224.69 L585.28 226.34 L585.2 228"/><path d="M510 126.8 L511.25 127.68 L512.5 128.56 L513.75 129.44 L514.99 130.33 L516.23 131.22 L517.46 132.13 L518.69 133.04 L519.9 133.97 L521.11 134.9 L522.31 135.85 L523.51 136.8 L524.69 137.76 L525.88 138.73 L527.05 139.71 L528.23 140.69 L529.4 141.68 L530.56 142.67 L531.71 143.68 L532.85 144.7 L533.98 145.73 L535.09 146.78 L536.17 147.86 L537.24 148.95 L538.28 150.07 L539.3 151.21 L540.29 152.37 L541.26 153.56 L542.21 154.76 L543.14 155.98 L544.04 157.21 L544.93 158.46 L545.79 159.73 L546.63 161 L547.46 162.29 L548.26 163.59 L549.05 164.9 L549.82 166.22 L550.57 167.55 L551.3 168.89 L552.02 170.25 L552.72 171.61 L553.4 172.98 L554.06 174.36 L554.7 175.74 L555.32 177.14 L555.91 178.55 L556.49 179.97 L557.04 181.39 L557.57 182.83 L558.07 184.27 L558.55 185.73 L559.01 187.19 L559.43 188.65 L559.83 190.13 L560.21 191.61 L560.56 193.1 L560.88 194.59 L561.18 196.09 L561.46 197.6 L561.73 199.1 L561.97 200.61 L562.2 202.13 L562.42 203.64 L562.62 205.16 L562.81 206.67 L563 208.19 L563.17 209.71 L563.33 211.23 L563.48 212.75 L563.62 214.27 L563.76 215.8 L563.88 217.32 L563.99 218.84 L564.09 220.37 L564.18 221.89 L564.27 223.42 L564.35 224.95 L564.43 226.47 L564.5 228"/><path d="M512 153.8 L512.93 154.87 L513.86 155.93 L514.78 157 L515.7 158.07 L516.62 159.15 L517.53 160.23 L518.43 161.32 L519.32 162.41 L520.21 163.51 L521.08 164.62 L521.95 165.74 L522.81 166.86 L523.66 167.99 L524.5 169.12 L525.34 170.26 L526.17 171.41 L526.99 172.56 L527.81 173.71 L528.63 174.87 L529.44 176.03 L530.24 177.2 L531.02 178.38 L531.78 179.58 L532.52 180.78 L533.23 182 L533.91 183.23 L534.56 184.49 L535.17 185.76 L535.75 187.04 L536.31 188.34 L536.86 189.65 L537.39 190.96 L537.91 192.28 L538.44 193.6 L538.96 194.91 L539.47 196.23 L539.98 197.56 L540.48 198.88 L540.96 200.21 L541.42 201.55 L541.86 202.89 L542.27 204.24 L542.65 205.6 L542.99 206.97 L543.3 208.34 L543.58 209.72 L543.84 211.12 L544.07 212.51 L544.27 213.91 L544.45 215.32 L544.62 216.73 L544.77 218.14 L544.91 219.55 L545.04 220.96 L545.16 222.37 L545.28 223.78 L545.39 225.18 L545.49 226.59 L545.6 228"/><path d="M514 186 L514.67 187.39 L515.33 188.77 L515.98 190.17 L516.63 191.56 L517.27 192.96 L517.89 194.36 L518.49 195.78 L519.07 197.2 L519.64 198.63 L520.19 200.06 L520.72 201.5 L521.24 202.95 L521.76 204.4 L522.26 205.85 L522.76 207.31 L523.26 208.76 L523.76 210.22 L524.25 211.68 L524.73 213.14 L525.2 214.6 L525.65 216.07 L526.09 217.54 L526.51 219.02 L526.9 220.51 L527.27 222 L527.62 223.49 L527.96 224.99 L528.28 226.5 L528.6 228"/><path d="M708 4.6 L706.86 5.32 L705.73 6.05 L704.59 6.78 L703.46 7.51 L702.32 8.24 L701.19 8.97 L700.07 9.71 L698.94 10.46 L697.82 11.2 L696.7 11.96 L695.58 12.71 L694.47 13.47 L693.36 14.24 L692.26 15.02 L691.16 15.79 L690.07 16.58 L688.98 17.37 L687.89 18.16 L686.8 18.95 L685.72 19.75 L684.63 20.55 L683.54 21.35 L682.45 22.14 L681.35 22.93 L680.25 23.73 L679.15 24.52 L678.05 25.31 L676.96 26.12 L675.88 26.93 L674.81 27.76 L673.76 28.6 L672.73 29.47 L671.72 30.36 L670.74 31.27 L669.79 32.21 L668.87 33.19 L667.99 34.19 L667.13 35.22 L666.29 36.27 L665.46 37.34 L664.65 38.42 L663.85 39.51 L663.05 40.61 L662.25 41.71 L661.44 42.8 L660.63 43.9 L659.82 44.99 L659.01 46.08 L658.21 47.18 L657.42 48.28 L656.66 49.4 L655.93 50.53 L655.23 51.67 L654.58 52.84 L653.97 54.04 L653.42 55.26 L652.93 56.5 L652.48 57.77 L652.09 59.06 L651.73 60.37 L651.42 61.69 L651.14 63.02 L650.89 64.36 L650.67 65.7 L650.47 67.04 L650.3 68.39 L650.17 69.73 L650.07 71.08 L650.01 72.42 L649.99 73.76 L650.03 75.11 L650.1 76.45 L650.22 77.79 L650.38 79.13 L650.57 80.47 L650.79 81.81 L651.03 83.14 L651.29 84.47 L651.57 85.79 L651.87 87.11 L652.18 88.42 L652.52 89.73 L652.89 91.02 L653.29 92.31 L653.71 93.59 L654.17 94.86 L654.66 96.11 L655.19 97.36 L655.75 98.59 L656.34 99.8 L656.96 101 L657.61 102.19 L658.29 103.35 L659 104.5 L659.74 105.63 L660.5 106.75 L661.3 107.84 L662.11 108.91 L662.95 109.97 L663.82 111.01 L664.71 112.02 L665.62 113.02 L666.55 114 L667.5 114.95 L668.48 115.89 L669.47 116.81 L670.48 117.7 L671.51 118.58 L672.55 119.43 L673.62 120.26 L674.69 121.08 L675.79 121.86 L676.9 122.63 L678.02 123.37 L679.17 124.07 L680.35 124.74 L681.54 125.37 L682.77 125.96 L684.02 126.49 L685.3 126.92 L686.61 127.24 L687.95 127.4 L689.3 127.42 L690.66 127.3 L692 127.06 L693.31 126.71 L694.59 126.26 L695.83 125.73 L697.04 125.13 L698.22 124.47 L699.37 123.76 L700.49 123.02 L701.59 122.24 L702.68 121.44 L703.76 120.63 L704.82 119.8 L705.89 118.97 L706.94 118.14 L708 117.3"/><path d="M708 27 L707.09 27.83 L706.19 28.66 L705.27 29.49 L704.36 30.31 L703.43 31.12 L702.5 31.93 L701.56 32.73 L700.63 33.54 L699.7 34.36 L698.8 35.19 L697.93 36.05 L697.09 36.95 L696.29 37.89 L695.53 38.85 L694.8 39.85 L694.11 40.87 L693.45 41.92 L692.81 42.98 L692.2 44.06 L691.62 45.15 L691.07 46.26 L690.55 47.38 L690.07 48.52 L689.64 49.67 L689.25 50.83 L688.91 52.01 L688.62 53.21 L688.37 54.42 L688.17 55.63 L688 56.86 L687.86 58.09 L687.75 59.32 L687.67 60.55 L687.61 61.78 L687.57 63.02 L687.56 64.25 L687.56 65.48 L687.59 66.71 L687.64 67.94 L687.71 69.17 L687.8 70.4 L687.91 71.63 L688.04 72.85 L688.19 74.08 L688.36 75.3 L688.55 76.52 L688.76 77.73 L689 78.94 L689.26 80.15 L689.55 81.34 L689.87 82.54 L690.21 83.72 L690.59 84.89 L691 86.06 L691.43 87.21 L691.89 88.36 L692.38 89.49 L692.9 90.61 L693.45 91.71 L694.03 92.8 L694.63 93.87 L695.25 94.93 L695.9 95.98 L696.57 97.02 L697.25 98.05 L697.94 99.06 L698.65 100.07 L699.37 101.07 L700.1 102.07 L700.83 103.05 L701.58 104.03 L702.35 105 L703.12 105.95 L703.92 106.89 L704.72 107.83 L705.53 108.75 L706.35 109.67 L707.17 110.59 L708 111.5"/><path d="M622.5 -3 L623.66 -1.73 L624.87 -0.53 L626.19 0.51 L627.63 1.38 L629.17 2.09 L630.79 2.68 L632.46 3.17 L634.17 3.59 L635.88 3.97 L637.58 4.34 L639.27 4.68 L640.96 5 L642.64 5.27 L644.32 5.49 L646 5.64 L647.69 5.72 L649.38 5.73 L651.09 5.66 L652.79 5.54 L654.49 5.36 L656.2 5.13 L657.9 4.87 L659.59 4.58 L661.27 4.26 L662.95 3.92 L664.62 3.56 L666.28 3.19 L667.94 2.8 L669.6 2.4 L671.25 1.98 L672.9 1.56 L674.55 1.11 L676.2 0.66 L677.84 0.19 L679.48 -0.29 L681.11 -0.78 L682.74 -1.28 L684.37 -1.79 L686 -2.3"/><path d="M643.6 225 L644.33 223.92 L645.07 222.83 L645.81 221.76 L646.56 220.69 L647.33 219.63 L648.12 218.59 L648.93 217.55 L649.76 216.54 L650.6 215.54 L651.47 214.55 L652.36 213.59 L653.27 212.65 L654.21 211.74 L655.17 210.85 L656.15 209.98 L657.16 209.15 L658.2 208.34 L659.25 207.56 L660.33 206.81 L661.42 206.08 L662.53 205.39 L663.66 204.73 L664.81 204.1 L665.98 203.5 L667.15 202.93 L668.34 202.39 L669.55 201.89 L670.77 201.41 L672 200.96 L673.24 200.54 L674.5 200.15 L675.76 199.79 L677.04 199.46 L678.32 199.17 L679.61 198.94 L680.9 198.78 L682.2 198.69 L683.51 198.68 L684.81 198.75 L686.11 198.87 L687.42 199.05 L688.71 199.26 L690.01 199.5 L691.3 199.76 L692.58 200.04 L693.86 200.34 L695.13 200.65 L696.39 200.98 L697.66 201.33 L698.91 201.69 L700.16 202.07 L701.4 202.47 L702.64 202.88 L703.88 203.31 L705.11 203.75 L706.33 204.2 L707.56 204.66 L708.78 205.13 L710 205.6"/></g>
<g fill="none" stroke="#ff50ff" stroke-width="0.55" stroke-dasharray="2.2 1.4" clip-path="url(#cc)"><path d="M597.3 -4 L597.67 -2.79 L598.03 -1.57 L598.39 -0.36 L598.75 0.86 L599.1 2.08 L599.45 3.3 L599.79 4.52 L600.13 5.74 L600.46 6.97 L600.79 8.19 L601.1 9.42 L601.42 10.65 L601.73 11.88 L602.03 13.11 L602.32 14.34 L602.61 15.58 L602.9 16.81 L603.18 18.05 L603.46 19.28 L603.74 20.52 L604.02 21.76 L604.31 22.99 L604.59 24.23 L604.88 25.47 L605.17 26.7 L605.46 27.93 L605.75 29.17 L606.04 30.4 L606.32 31.64 L606.59 32.88 L606.85 34.12 L607.09 35.37 L607.31 36.62 L607.49 37.87 L607.62 39.13 L607.65 40.4 L607.58 41.68 L607.37 42.96 L607.02 44.21 L606.51 45.38 L605.83 46.43 L604.99 47.34 L604 48.13 L602.92 48.82 L601.76 49.42 L600.56 49.97 L599.34 50.47 L598.14 50.94 L596.93 51.39 L595.73 51.81 L594.53 52.22 L593.33 52.62 L592.14 53 L590.94 53.38 L589.75 53.75 L588.55 54.13 L587.35 54.51 L586.15 54.89 L584.95 55.28 L583.74 55.67 L582.54 56.06 L581.33 56.45 L580.12 56.83 L578.9 57.2 L577.68 57.57 L576.46 57.93 L575.24 58.27 L574.01 58.6 L572.78 58.91 L571.55 59.21 L570.31 59.49 L569.07 59.76 L567.83 60.01 L566.58 60.26 L565.34 60.49 L564.09 60.72 L562.84 60.93 L561.59 61.14 L560.34 61.35 L559.08 61.54 L557.83 61.74 L556.58 61.93 L555.32 62.11 L554.07 62.3 L552.81 62.48 L551.56 62.65 L550.3 62.83 L549.04 63 L547.79 63.17 L546.53 63.34 L545.27 63.5 L544.02 63.67 L542.76 63.84 L541.5 64 L540.25 64.17 L538.99 64.33 L537.73 64.5 L536.47 64.67 L535.22 64.83 L533.96 65 L532.7 65.16 L531.44 65.33 L530.18 65.49 L528.93 65.64 L527.67 65.8 L526.41 65.95 L525.15 66.1 L523.89 66.24 L522.63 66.38 L521.37 66.52 L520.11 66.64 L518.85 66.77 L517.58 66.88 L516.32 67 L515.06 67.1 L513.79 67.2 L512.53 67.3 L511.26 67.4 L510 67.5"/><path d="M662 26.6 L661.15 27.03 L660.3 27.47 L659.45 27.9 L658.6 28.33 L657.75 28.77 L656.9 29.2 L656.06 29.64 L655.21 30.08 L654.36 30.51 L653.51 30.95 L652.67 31.4 L651.82 31.84 L650.98 32.28 L650.14 32.73 L649.29 33.18 L648.45 33.63 L647.61 34.08 L646.77 34.53 L645.93 34.98 L645.09 35.44 L644.25 35.9 L643.41 36.35 L642.58 36.81 L641.74 37.26 L640.9 37.72 L640.07 38.18 L639.23 38.63 L638.39 39.09 L637.56 39.54 L636.72 39.99 L635.88 40.45 L635.04 40.9 L634.21 41.35 L633.37 41.81 L632.53 42.26 L631.7 42.72 L630.86 43.18 L630.02 43.64 L629.19 44.1 L628.35 44.57 L627.51 45.05 L626.68 45.53 L625.87 46.04 L625.08 46.58 L624.33 47.16 L623.61 47.79 L622.95 48.48 L622.34 49.23 L621.8 50.02 L621.33 50.86 L620.95 51.74 L620.65 52.65 L620.45 53.58 L620.31 54.53 L620.25 55.5 L620.24 56.46 L620.29 57.43 L620.39 58.39 L620.53 59.33 L620.7 60.27 L620.9 61.21 L621.14 62.13 L621.39 63.05 L621.67 63.97 L621.96 64.88 L622.26 65.78 L622.57 66.68 L622.89 67.58 L623.22 68.48 L623.56 69.37 L623.9 70.26 L624.25 71.15 L624.61 72.03 L624.98 72.91 L625.35 73.79 L625.73 74.66 L626.11 75.54 L626.5 76.41 L626.89 77.28 L627.29 78.14 L627.69 79.01 L628.09 79.88 L628.49 80.74 L628.89 81.61 L629.29 82.47 L629.69 83.34 L630.1 84.21 L630.49 85.07 L630.89 85.94 L631.29 86.81 L631.69 87.68 L632.08 88.54 L632.48 89.41 L632.87 90.28 L633.27 91.15 L633.67 92.01 L634.07 92.88 L634.47 93.74 L634.87 94.61 L635.28 95.47 L635.68 96.33 L636.09 97.2 L636.51 98.06 L636.92 98.91 L637.34 99.77 L637.76 100.63 L638.18 101.48 L638.61 102.33 L639.04 103.19 L639.47 104.04 L639.9 104.89 L640.33 105.74 L640.76 106.59 L641.2 107.44 L641.63 108.29 L642.07 109.14 L642.51 109.99 L642.95 110.83 L643.39 111.68 L643.83 112.52 L644.28 113.37 L644.73 114.21 L645.18 115.05 L645.64 115.88 L646.1 116.72 L646.57 117.55 L647.05 118.38 L647.53 119.2 L648.01 120.02 L648.51 120.84 L649.01 121.65 L649.52 122.45 L650.03 123.26 L650.55 124.06 L651.07 124.85 L651.61 125.65 L652.14 126.44 L652.68 127.22 L653.23 128.01 L653.78 128.79 L654.33 129.57 L654.89 130.34 L655.44 131.11 L656.01 131.89 L656.57 132.66 L657.14 133.42 L657.71 134.19 L658.28 134.95 L658.86 135.71 L659.44 136.47 L660.02 137.23 L660.6 137.98 L661.18 138.73 L661.77 139.48 L662.36 140.23 L662.95 140.98 L663.54 141.73 L664.13 142.47 L664.73 143.21 L665.33 143.96 L665.93 144.7 L666.54 145.44 L667.15 146.18 L667.76 146.92 L668.38 147.66 L668.99 148.39 L669.62 149.12 L670.24 149.84 L670.87 150.55 L671.5 151.26 L672.14 151.95 L672.78 152.62 L673.43 153.29 L674.11 153.95 L674.82 154.61 L675.58 155.26 L676.38 155.9 L677.22 156.42 L678.09 156.75 L678.98 156.77 L679.87 156.51 L680.76 156.06 L681.62 155.52 L682.46 154.98 L683.26 154.45 L684.05 153.92 L684.83 153.4 L685.6 152.88 L686.37 152.35 L687.15 151.82 L687.93 151.29 L688.72 150.76 L689.51 150.23 L690.3 149.7 L691.1 149.16 L691.9 148.62 L692.69 148.09 L693.49 147.55 L694.28 147.01 L695.07 146.47 L695.86 145.93 L696.65 145.39 L697.44 144.85 L698.22 144.3 L699 143.76 L699.79 143.22 L700.57 142.68 L701.35 142.14 L702.14 141.6 L702.92 141.05 L703.7 140.51 L704.49 139.97 L705.28 139.43 L706.06 138.89 L706.85 138.36 L707.64 137.82 L708.42 137.28 L709.21 136.74 L710 136.2"/><path d="M655 192 L655.55 191.31 L656.09 190.63 L656.64 189.94 L657.19 189.25 L657.74 188.57 L658.29 187.88 L658.85 187.2 L659.4 186.52 L659.96 185.85 L660.52 185.17 L661.08 184.5 L661.65 183.83 L662.22 183.16 L662.8 182.5 L663.38 181.84 L663.96 181.19 L664.55 180.53 L665.14 179.88 L665.73 179.24 L666.34 178.6 L666.94 177.96 L667.56 177.33 L668.18 176.7 L668.8 176.08 L669.43 175.46 L670.08 174.86 L670.73 174.28 L671.39 173.71 L672.06 173.15 L672.75 172.61 L673.45 172.1 L674.17 171.6 L674.92 171.13 L675.71 170.69 L676.52 170.29 L677.36 169.98 L678.21 169.81 L679.06 169.84 L679.91 170.03 L680.75 170.35 L681.57 170.74 L682.37 171.15 L683.14 171.57 L683.9 172.01 L684.65 172.46 L685.39 172.92 L686.13 173.38 L686.87 173.84 L687.61 174.31 L688.35 174.78 L689.09 175.25 L689.83 175.72 L690.58 176.19 L691.32 176.65 L692.07 177.12 L692.82 177.59 L693.57 178.05 L694.32 178.51 L695.07 178.97 L695.82 179.43 L696.57 179.88 L697.32 180.34 L698.07 180.79 L698.82 181.25 L699.57 181.7 L700.32 182.16 L701.07 182.61 L701.82 183.07 L702.56 183.53 L703.31 183.99 L704.06 184.45 L704.8 184.92 L705.55 185.38 L706.29 185.85 L707.03 186.32 L707.77 186.79 L708.52 187.26 L709.26 187.73 L710 188.2"/></g>
<g fill="none" stroke="#ff00ff" stroke-width="1.75" clip-path="url(#cc)"><path d="M510 68.6 L511.55 68.5 L513.1 68.39 L514.64 68.28 L516.19 68.17 L517.74 68.06 L519.28 67.94 L520.83 67.81 L522.38 67.68 L523.92 67.54 L525.46 67.39 L527.01 67.24 L528.55 67.07 L530.09 66.89 L531.63 66.7 L533.17 66.5 L534.7 66.29 L536.24 66.08 L537.78 65.86 L539.31 65.65 L540.85 65.44 L542.39 65.24 L543.93 65.05 L545.47 64.86 L547.01 64.68 L548.55 64.5 L550.09 64.32 L551.63 64.15 L553.17 63.97 L554.71 63.79 L556.25 63.6 L557.79 63.4 L559.33 63.19 L560.86 62.97 L562.4 62.75 L563.93 62.51 L565.46 62.27 L566.99 62.03 L568.53 61.77 L570.06 61.51 L571.58 61.25 L573.11 60.98 L574.64 60.7 L576.16 60.41 L577.68 60.11 L579.2 59.78 L580.71 59.43 L582.22 59.06 L583.72 58.67 L585.21 58.25 L586.7 57.82 L588.19 57.37 L589.67 56.91 L591.15 56.43 L592.62 55.94 L594.09 55.44 L595.55 54.94 L597.02 54.43 L598.49 53.93 L599.95 53.42 L601.42 52.91 L602.88 52.41 L604.35 51.9 L605.82 51.4 L607.29 50.9 L608.76 50.4 L610.22 49.89 L611.68 49.37 L613.14 48.83 L614.58 48.27 L616.01 47.68 L617.44 47.06 L618.86 46.43 L620.27 45.79 L621.68 45.15 L623.09 44.5 L624.5 43.85 L625.91 43.2 L627.32 42.56 L628.73 41.91 L630.14 41.26 L631.55 40.61 L632.95 39.96 L634.36 39.31 L635.77 38.65 L637.17 37.99 L638.58 37.34 L639.98 36.67 L641.38 36.01 L642.78 35.34 L644.18 34.67 L645.58 34 L646.98 33.33 L648.37 32.65 L649.76 31.97 L651.16 31.28 L652.55 30.59 L653.93 29.9 L655.32 29.2 L656.7 28.5 L658.08 27.79 L659.46 27.08 L660.84 26.36 L662.21 25.64 L663.58 24.92 L664.95 24.19 L666.31 23.45 L667.68 22.71 L669.04 21.96 L670.39 21.21 L671.75 20.45 L673.1 19.69 L674.44 18.92 L675.79 18.14 L677.13 17.37 L678.47 16.58 L679.8 15.79 L681.14 15 L682.47 14.2 L683.79 13.4 L685.12 12.59 L686.44 11.79 L687.77 10.98 L689.09 10.16 L690.41 9.35 L691.73 8.53 L693.04 7.71 L694.36 6.89 L695.68 6.07 L696.99 5.24 L698.3 4.41 L699.61 3.58 L700.91 2.75 L702.22 1.91 L703.52 1.06 L704.82 0.21 L706.12 -0.64 L707.41 -1.49 L708.71 -2.34 L710 -3.2"/><path d="M595.6 -5 L595.87 -4.01 L596.15 -3.02 L596.42 -2.04 L596.7 -1.05 L596.98 -0.06 L597.27 0.92 L597.56 1.9 L597.85 2.89 L598.15 3.87 L598.44 4.85 L598.74 5.83 L599.04 6.81 L599.34 7.79 L599.63 8.77 L599.93 9.75 L600.22 10.74 L600.51 11.72 L600.8 12.7 L601.09 13.69 L601.37 14.67 L601.67 15.65 L601.96 16.64 L602.26 17.62 L602.56 18.6 L602.86 19.57 L603.18 20.55 L603.5 21.52 L603.82 22.5 L604.16 23.46 L604.5 24.43 L604.84 25.4 L605.19 26.36 L605.55 27.32 L605.92 28.28 L606.28 29.24 L606.66 30.19 L607.04 31.14 L607.42 32.09 L607.8 33.05 L608.19 34 L608.57 34.95 L608.96 35.9 L609.34 36.85 L609.73 37.8 L610.11 38.75 L610.49 39.7 L610.87 40.65 L611.25 41.6 L611.63 42.55 L612.01 43.51 L612.39 44.46 L612.77 45.41 L613.15 46.36 L613.53 47.32 L613.91 48.27 L614.29 49.22 L614.67 50.17 L615.05 51.12 L615.43 52.07 L615.82 53.02 L616.2 53.97 L616.59 54.92 L616.97 55.87 L617.36 56.82 L617.74 57.77 L618.13 58.72 L618.52 59.67 L618.91 60.62 L619.3 61.57 L619.69 62.51 L620.08 63.46 L620.48 64.41 L620.88 65.35 L621.27 66.3 L621.67 67.24 L622.08 68.18 L622.48 69.12 L622.89 70.06 L623.3 71 L623.71 71.94 L624.13 72.88 L624.54 73.82 L624.96 74.75 L625.37 75.69 L625.79 76.63 L626.21 77.56 L626.62 78.5 L627.04 79.44 L627.46 80.37 L627.87 81.31 L628.29 82.25 L628.7 83.19 L629.11 84.12 L629.53 85.06 L629.94 86 L630.35 86.94 L630.77 87.87 L631.19 88.81 L631.6 89.75 L632.02 90.68 L632.44 91.62 L632.87 92.55 L633.3 93.48 L633.73 94.41 L634.16 95.34 L634.6 96.27 L635.04 97.19 L635.48 98.12 L635.93 99.04 L636.37 99.96 L636.83 100.88 L637.28 101.8 L637.73 102.72 L638.19 103.64 L638.64 104.56 L639.1 105.48 L639.55 106.4 L640.01 107.31 L640.46 108.23 L640.92 109.15 L641.37 110.07 L641.83 110.99 L642.29 111.9 L642.75 112.82 L643.22 113.73 L643.68 114.65 L644.16 115.56 L644.63 116.46 L645.11 117.37 L645.6 118.27 L646.09 119.17 L646.59 120.06 L647.1 120.96 L647.61 121.84 L648.13 122.73 L648.66 123.61 L649.2 124.48 L649.74 125.35 L650.29 126.22 L650.84 127.08 L651.4 127.94 L651.97 128.79 L652.55 129.64 L653.14 130.48 L653.73 131.32 L654.32 132.15 L654.93 132.98 L655.54 133.8 L656.16 134.62 L656.78 135.43 L657.41 136.25 L658.04 137.05 L658.68 137.86 L659.32 138.66 L659.97 139.45 L660.62 140.25 L661.27 141.04 L661.92 141.83 L662.58 142.61 L663.24 143.4 L663.9 144.18 L664.56 144.96 L665.22 145.74 L665.88 146.52 L666.54 147.3 L667.2 148.08 L667.87 148.86 L668.53 149.65 L669.2 150.44 L669.87 151.23 L670.54 152.02 L671.21 152.81 L671.89 153.58 L672.56 154.33 L673.24 155.05 L673.92 155.76 L674.62 156.48 L675.32 157.24 L676.06 158.07 L676.82 158.93 L677.61 159.65 L678.46 160 L679.35 159.81 L680.27 159.25 L681.18 158.56 L682.07 157.91 L682.93 157.31 L683.77 156.75 L684.6 156.21 L685.43 155.67 L686.25 155.13 L687.08 154.58 L687.92 154.02 L688.76 153.44 L689.6 152.85 L690.45 152.27 L691.3 151.67 L692.15 151.08 L693 150.49 L693.86 149.9 L694.71 149.31 L695.57 148.74 L696.42 148.17 L697.27 147.6 L698.13 147.03 L698.98 146.47 L699.83 145.9 L700.69 145.34 L701.54 144.78 L702.39 144.21 L703.24 143.64 L704.09 143.07 L704.93 142.49 L705.78 141.91 L706.62 141.33 L707.47 140.75 L708.31 140.17 L709.16 139.58 L710 139"/><path d="M626 226 L626.53 225.34 L627.06 224.67 L627.59 224.01 L628.12 223.35 L628.65 222.69 L629.18 222.02 L629.71 221.36 L630.24 220.7 L630.77 220.04 L631.3 219.37 L631.83 218.71 L632.36 218.05 L632.9 217.39 L633.43 216.73 L633.96 216.07 L634.5 215.41 L635.03 214.75 L635.57 214.1 L636.11 213.44 L636.65 212.79 L637.2 212.13 L637.74 211.48 L638.29 210.84 L638.84 210.19 L639.39 209.54 L639.95 208.9 L640.5 208.26 L641.06 207.62 L641.62 206.98 L642.18 206.35 L642.74 205.71 L643.3 205.07 L643.86 204.43 L644.42 203.8 L644.98 203.16 L645.54 202.52 L646.09 201.88 L646.65 201.23 L647.2 200.59 L647.75 199.94 L648.29 199.29 L648.84 198.64 L649.38 197.99 L649.92 197.33 L650.45 196.67 L650.99 196.02 L651.52 195.36 L652.06 194.7 L652.59 194.04 L653.13 193.38 L653.66 192.72 L654.2 192.06 L654.73 191.4 L655.27 190.74 L655.81 190.09 L656.35 189.43 L656.89 188.78 L657.43 188.12 L657.97 187.47 L658.51 186.81 L659.05 186.16 L659.59 185.5 L660.13 184.85 L660.67 184.2 L661.21 183.55 L661.75 182.89 L662.29 182.24 L662.82 181.59 L663.36 180.93 L663.9 180.28 L664.44 179.63 L664.99 178.98 L665.53 178.33 L666.08 177.68 L666.63 177.02 L667.18 176.37 L667.74 175.72 L668.3 175.07 L668.86 174.43 L669.43 173.79 L669.99 173.15 L670.56 172.52 L671.14 171.91 L671.71 171.3 L672.29 170.71 L672.87 170.12 L673.46 169.55 L674.07 168.98 L674.7 168.41 L675.36 167.84 L676.06 167.25 L676.79 166.69 L677.55 166.23 L678.32 166.01 L679.07 166.11 L679.82 166.49 L680.55 167.04 L681.27 167.62 L681.98 168.17 L682.68 168.69 L683.36 169.18 L684.04 169.66 L684.72 170.13 L685.4 170.59 L686.08 171.06 L686.77 171.53 L687.46 172 L688.15 172.48 L688.84 172.97 L689.54 173.46 L690.24 173.95 L690.94 174.44 L691.64 174.93 L692.35 175.41 L693.05 175.9 L693.76 176.38 L694.47 176.86 L695.17 177.34 L695.88 177.81 L696.59 178.28 L697.3 178.75 L698 179.21 L698.71 179.68 L699.42 180.14 L700.13 180.61 L700.83 181.07 L701.54 181.54 L702.25 182 L702.95 182.47 L703.66 182.94 L704.37 183.41 L705.07 183.88 L705.78 184.35 L706.48 184.82 L707.18 185.3 L707.89 185.77 L708.59 186.25 L709.3 186.72 L710 187.2"/></g>
<path d="M673.6 41.6 L672.34 42.3 L671.08 43 L669.81 43.7 L668.55 44.4 L667.29 45.1 L666.03 45.8 L664.76 46.5 L663.5 47.2 L662.24 47.9 L660.98 48.6 L659.72 49.31 L658.46 50.01 L657.2 50.72 L655.94 51.43 L654.69 52.14 L653.43 52.85 L652.19 53.57 L650.94 54.3 L649.71 55.04 L648.48 55.79 L647.26 56.57 L646.05 57.37 L644.85 58.2 L643.68 59.07 L642.57 59.99 L641.52 60.98 L640.56 62.05 L639.7 63.21 L638.95 64.45 L638.29 65.75 L637.74 67.1 L637.29 68.48 L636.94 69.89 L636.71 71.32 L636.6 72.76 L636.63 74.2 L636.76 75.63 L636.96 77.07 L637.2 78.5 L661.9 135.2 L697.5 135.2 L697.5 187 L689.6 190.2 L663 162 L588 70.5 L540.1 82.5 L528.4 83.1 L528.4 76.6 L546.7 77.5 L583.9 43.2" fill="none" stroke="#008000" stroke-width="3.3" stroke-linejoin="miter" clip-path="url(#cc)"/>
<path d="M569.4 0 L583.9 43.2" fill="none" stroke="#000" stroke-width="1.3" clip-path="url(#cc)"/>
<path d="M673.6 41.6 L676.54 39.59 L679.47 37.58 L682.39 35.55 L685.29 33.49 L688.17 31.41 L691.02 29.29 L693.85 27.13 L696.66 24.95 L699.45 22.75 L702.23 20.53 L705 18.3" fill="none" stroke="#000" stroke-width="1.3" clip-path="url(#cc)"/>
<rect x="518.5" y="0.3" width="184.8" height="220.2" fill="none" stroke="#3a3a3a" stroke-width="0.95"/>
<path d="M518.5 3.78 h-2.2 M518.5 9.64 h-2.2 M518.5 15.5 h-3.2 M518.5 21.36 h-2.2 M518.5 27.22 h-2.2 M518.5 33.07 h-2.2 M518.5 38.93 h-2.2 M518.5 44.79 h-3.2 M518.5 50.65 h-2.2 M518.5 56.51 h-2.2 M518.5 62.36 h-2.2 M518.5 68.22 h-2.2 M518.5 74.08 h-3.2 M518.5 79.94 h-2.2 M518.5 85.8 h-2.2 M518.5 91.65 h-2.2 M518.5 97.51 h-2.2 M518.5 103.37 h-3.2 M518.5 109.23 h-2.2 M518.5 115.09 h-2.2 M518.5 120.94 h-2.2 M518.5 126.8 h-2.2 M518.5 132.66 h-3.2 M518.5 138.52 h-2.2 M518.5 144.38 h-2.2 M518.5 150.23 h-2.2 M518.5 156.09 h-2.2 M518.5 161.95 h-3.2 M518.5 167.81 h-2.2 M518.5 173.67 h-2.2 M518.5 179.52 h-2.2 M518.5 185.38 h-2.2 M518.5 191.24 h-3.2 M518.5 197.1 h-2.2 M518.5 202.96 h-2.2 M518.5 208.81 h-2.2 M518.5 214.67 h-2.2 M518.5 220.53 h-3.2 M521.06 220.5 v2.2 M535.81 220.5 v2.2 M550.56 220.5 v2.2 M565.3 220.5 v3.2 M580.04 220.5 v2.2 M594.79 220.5 v2.2 M609.53 220.5 v2.2 M624.28 220.5 v3.2 M639.02 220.5 v2.2 M653.77 220.5 v2.2 M668.51 220.5 v2.2 M683.26 220.5 v3.2 M698 220.5 v2.2" stroke="#3a3a3a" stroke-width="0.75" fill="none"/>
<text x="513.3" y="19.5" text-anchor="end" class="tl">−1.0</text>
<text x="513.3" y="48.79" text-anchor="end" class="tl">−1.1</text>
<text x="513.3" y="78.08" text-anchor="end" class="tl">−1.2</text>
<text x="513.3" y="107.37" text-anchor="end" class="tl">−1.3</text>
<text x="513.3" y="136.66" text-anchor="end" class="tl">−1.4</text>
<text x="513.3" y="165.95" text-anchor="end" class="tl">−1.5</text>
<text x="513.3" y="195.24" text-anchor="end" class="tl">−1.6</text>
<text x="513.3" y="224.53" text-anchor="end" class="tl">−1.7</text>
<text x="565.3" y="234.7" text-anchor="middle" class="tl">1.4</text>
<text x="624.28" y="234.7" text-anchor="middle" class="tl">1.6</text>
<text x="683.26" y="234.7" text-anchor="middle" class="tl">1.8</text>
<text x="610.48" y="248.3" text-anchor="middle" class="al">R (m)</text>
<text transform="translate(485.9 110.5) rotate(-90)" text-anchor="middle" class="al">Z (m)</text>
<text x="528.5" y="17.2" class="pl">c)</text>
</g></svg></body></html>
